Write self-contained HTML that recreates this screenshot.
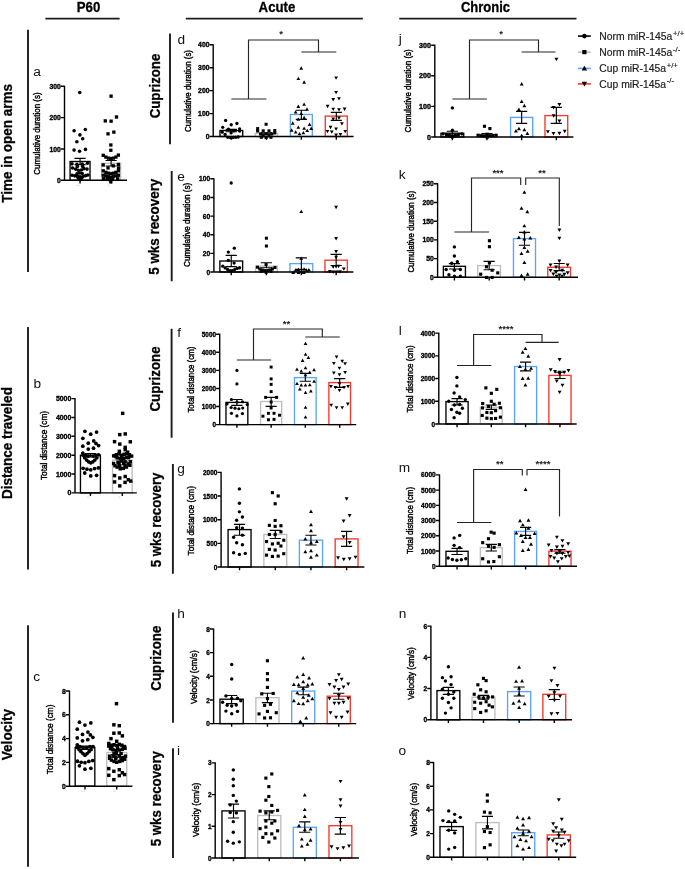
<!DOCTYPE html>
<html><head><meta charset="utf-8"><title>Figure</title>
<style>html,body{margin:0;padding:0;background:#fff;}svg{display:block;}</style>
</head><body>
<svg width="685" height="869" viewBox="0 0 685 869" font-family="'Liberation Sans', Arial, sans-serif"><rect width="685" height="869" fill="#fff"/><g><rect x="70.08" y="161.5" width="19.95" height="18.8" fill="none" stroke="#000000" stroke-width="1.35"/><rect x="101.58" y="163.3" width="19.05" height="17" fill="none" stroke="#bdbdbd" stroke-width="1.35"/><g fill="#000"><circle cx="79.72" cy="92.47" r="1.8"/><circle cx="74.1" cy="130.79" r="1.8"/><circle cx="85.34" cy="129.46" r="1.8"/><circle cx="79.93" cy="134.88" r="1.8"/><circle cx="82.69" cy="138.76" r="1.8"/><circle cx="76.86" cy="141.82" r="1.8"/><circle cx="74.06" cy="150.08" r="1.8"/><circle cx="79.58" cy="151.31" r="1.8"/><circle cx="85.45" cy="149.38" r="1.8"/><circle cx="71.96" cy="163.83" r="1.8"/><circle cx="76.95" cy="164.27" r="1.8"/><circle cx="82.2" cy="164.09" r="1.8"/><circle cx="87.46" cy="163.22" r="1.8"/><circle cx="72.57" cy="167.95" r="1.8"/><circle cx="75.64" cy="169.09" r="1.8"/><circle cx="78.26" cy="170.23" r="1.8"/><circle cx="81.33" cy="169.96" r="1.8"/><circle cx="83.96" cy="168.65" r="1.8"/><circle cx="87.02" cy="169.09" r="1.8"/><circle cx="77.39" cy="166.46" r="1.8"/><circle cx="82.64" cy="166.46" r="1.8"/><circle cx="72.13" cy="175.22" r="1.8"/><circle cx="74.76" cy="175.83" r="1.8"/><circle cx="77.39" cy="176.36" r="1.8"/><circle cx="80.01" cy="176.71" r="1.8"/><circle cx="83.08" cy="176.36" r="1.8"/><circle cx="85.71" cy="175.66" r="1.8"/><circle cx="87.9" cy="174.96" r="1.8"/><circle cx="78.26" cy="178.11" r="1.8"/><circle cx="80.01" cy="179.6" r="1.8"/><circle cx="81.77" cy="178.11" r="1.8"/><circle cx="79.58" cy="173.03" r="1.8"/><circle cx="76.95" cy="173.91" r="1.8"/><circle cx="82.2" cy="173.47" r="1.8"/><rect x="109.44" y="94.49" width="3.31" height="3.31"/><rect x="114.85" y="115.34" width="3.31" height="3.31"/><rect x="103.61" y="119.22" width="3.31" height="3.31"/><rect x="109.44" y="119.53" width="3.31" height="3.31"/><rect x="112.2" y="130.46" width="3.31" height="3.31"/><rect x="106.37" y="132.2" width="3.31" height="3.31"/><rect x="109.19" y="143.34" width="3.31" height="3.31"/><rect x="109.19" y="148.6" width="3.31" height="3.31"/><rect x="101.57" y="153.68" width="3.31" height="3.31"/><rect x="104.2" y="155.43" width="3.31" height="3.31"/><rect x="106.83" y="156.48" width="3.31" height="3.31"/><rect x="109.19" y="156.92" width="3.31" height="3.31"/><rect x="111.64" y="156.48" width="3.31" height="3.31"/><rect x="114.27" y="155.43" width="3.31" height="3.31"/><rect x="116.72" y="153.42" width="3.31" height="3.31"/><rect x="101.57" y="163.31" width="3.31" height="3.31"/><rect x="106.39" y="166.29" width="3.31" height="3.31"/><rect x="111.64" y="164.19" width="3.31" height="3.31"/><rect x="116.72" y="162.79" width="3.31" height="3.31"/><rect x="116.9" y="166.29" width="3.31" height="3.31"/><rect x="101.57" y="169.18" width="3.31" height="3.31"/><rect x="104.2" y="170.67" width="3.31" height="3.31"/><rect x="106.83" y="171.55" width="3.31" height="3.31"/><rect x="109.19" y="172.07" width="3.31" height="3.31"/><rect x="111.64" y="171.55" width="3.31" height="3.31"/><rect x="114.27" y="170.67" width="3.31" height="3.31"/><rect x="116.72" y="169.18" width="3.31" height="3.31"/><rect x="101.57" y="173.56" width="3.31" height="3.31"/><rect x="104.2" y="174.18" width="3.31" height="3.31"/><rect x="106.83" y="175.05" width="3.31" height="3.31"/><rect x="109.19" y="175.75" width="3.31" height="3.31"/><rect x="111.64" y="175.05" width="3.31" height="3.31"/><rect x="114.27" y="174.18" width="3.31" height="3.31"/><rect x="116.72" y="173.56" width="3.31" height="3.31"/><rect x="105.51" y="176.63" width="3.31" height="3.31"/><rect x="108.14" y="177.94" width="3.31" height="3.31"/><rect x="110.77" y="177.07" width="3.31" height="3.31"/><rect x="109.19" y="180.13" width="3.31" height="3.31"/><rect x="102.01" y="177.07" width="3.31" height="3.31"/><rect x="116.02" y="177.07" width="3.31" height="3.31"/></g><path d="M80.05 158.4V164.6M74.45 158.4H85.65M74.45 164.6H85.65M111.1 160.5V166M105.5 160.5H116.7M105.5 166H116.7" stroke="#000" stroke-width="1.15" fill="none"/><path d="M64.5 85.7V180.3H127M60.9 180.3H64.5M60.9 148.97H64.5M60.9 117.63H64.5M60.9 86.3H64.5M80.05 180.3V183.5M111.1 180.3V183.5" stroke="#000" stroke-width="1.4" fill="none"/><text x="60.8" y="182.86" font-size="7.2" font-weight="bold" text-anchor="end" stroke="#000" stroke-width="0.35" textLength="3.8" lengthAdjust="spacingAndGlyphs">0</text><text x="60.8" y="151.52" font-size="7.2" font-weight="bold" text-anchor="end" stroke="#000" stroke-width="0.35" textLength="11.4" lengthAdjust="spacingAndGlyphs">100</text><text x="60.8" y="120.19" font-size="7.2" font-weight="bold" text-anchor="end" stroke="#000" stroke-width="0.35" textLength="11.4" lengthAdjust="spacingAndGlyphs">200</text><text x="60.8" y="88.86" font-size="7.2" font-weight="bold" text-anchor="end" stroke="#000" stroke-width="0.35" textLength="11.4" lengthAdjust="spacingAndGlyphs">300</text><text transform="translate(40.46 133.6) rotate(-90)" font-size="8.6" text-anchor="middle" stroke="#000" stroke-width="0.4" textLength="82.4" lengthAdjust="spacingAndGlyphs">Cumulative duration (s)</text><text x="33.3" y="76.4" font-size="13.7" fill="#111">a</text></g><g><rect x="80.47" y="455.2" width="19.95" height="37.7" fill="none" stroke="#000000" stroke-width="1.35"/><rect x="112.58" y="460.2" width="19.55" height="32.7" fill="none" stroke="#bdbdbd" stroke-width="1.35"/><g fill="#000"><circle cx="84.93" cy="431.31" r="1.88"/><circle cx="90.72" cy="434.2" r="1.88"/><circle cx="96.58" cy="432.01" r="1.88"/><circle cx="82.83" cy="438.31" r="1.88"/><circle cx="88.26" cy="443.22" r="1.88"/><circle cx="93.69" cy="440.94" r="1.88"/><circle cx="95.97" cy="443.39" r="1.88"/><circle cx="98.6" cy="445.58" r="1.88"/><circle cx="82.83" cy="446.2" r="1.88"/><circle cx="88.26" cy="449.09" r="1.88"/><circle cx="93.52" cy="448.21" r="1.88"/><circle cx="82.83" cy="453.03" r="1.88"/><circle cx="83.01" cy="455.22" r="1.88"/><circle cx="84.76" cy="457.85" r="1.88"/><circle cx="86.69" cy="460.04" r="1.88"/><circle cx="88.7" cy="461.79" r="1.88"/><circle cx="90.72" cy="462.84" r="1.88"/><circle cx="92.82" cy="461.79" r="1.88"/><circle cx="94.83" cy="460.04" r="1.88"/><circle cx="96.85" cy="457.85" r="1.88"/><circle cx="98.6" cy="454.78" r="1.88"/><circle cx="85.64" cy="455.22" r="1.88"/><circle cx="88.26" cy="456.09" r="1.88"/><circle cx="93.08" cy="456.09" r="1.88"/><circle cx="95.71" cy="455.22" r="1.88"/><circle cx="83.18" cy="468.36" r="1.88"/><circle cx="86.95" cy="469.23" r="1.88"/><circle cx="90.72" cy="469.85" r="1.88"/><circle cx="94.57" cy="468.62" r="1.88"/><circle cx="98.34" cy="467.92" r="1.88"/><circle cx="84.76" cy="473" r="1.88"/><circle cx="90.72" cy="475.98" r="1.88"/><circle cx="96.58" cy="475.36" r="1.88"/><rect x="118.07" y="432.91" width="3.45" height="3.45"/><rect x="123.5" y="432.21" width="3.45" height="3.45"/><rect x="112.82" y="439.92" width="3.45" height="3.45"/><rect x="118.07" y="442.37" width="3.45" height="3.45"/><rect x="128.58" y="440.09" width="3.45" height="3.45"/><rect x="123.5" y="445.61" width="3.45" height="3.45"/><rect x="123.5" y="447.98" width="3.45" height="3.45"/><rect x="117.63" y="449.55" width="3.45" height="3.45"/><rect x="125.95" y="450.43" width="3.45" height="3.45"/><rect x="111.94" y="454.11" width="3.45" height="3.45"/><rect x="114.57" y="453.06" width="3.45" height="3.45"/><rect x="117.19" y="452.18" width="3.45" height="3.45"/><rect x="119.82" y="453.49" width="3.45" height="3.45"/><rect x="122.45" y="452.62" width="3.45" height="3.45"/><rect x="125.08" y="452" width="3.45" height="3.45"/><rect x="127.71" y="453.06" width="3.45" height="3.45"/><rect x="129.9" y="454.37" width="3.45" height="3.45"/><rect x="115.44" y="456.12" width="3.45" height="3.45"/><rect x="118.51" y="457" width="3.45" height="3.45"/><rect x="122.01" y="456.56" width="3.45" height="3.45"/><rect x="125.08" y="455.68" width="3.45" height="3.45"/><rect x="119.82" y="459.19" width="3.45" height="3.45"/><rect x="117.19" y="461.82" width="3.45" height="3.45"/><rect x="122.01" y="461.82" width="3.45" height="3.45"/><rect x="113.25" y="464" width="3.45" height="3.45"/><rect x="115.44" y="465.32" width="3.45" height="3.45"/><rect x="118.51" y="467.07" width="3.45" height="3.45"/><rect x="121.57" y="466.63" width="3.45" height="3.45"/><rect x="124.64" y="465.32" width="3.45" height="3.45"/><rect x="128.14" y="463.57" width="3.45" height="3.45"/><rect x="126.83" y="462.25" width="3.45" height="3.45"/><rect x="112.82" y="473.9" width="3.45" height="3.45"/><rect x="118.07" y="476.27" width="3.45" height="3.45"/><rect x="123.5" y="474.78" width="3.45" height="3.45"/><rect x="112.82" y="480.21" width="3.45" height="3.45"/><rect x="123.33" y="480.65" width="3.45" height="3.45"/><rect x="126.65" y="478.02" width="3.45" height="3.45"/><rect x="129.02" y="479.33" width="3.45" height="3.45"/><rect x="118.07" y="484.15" width="3.45" height="3.45"/><rect x="120.93" y="411.63" width="3.45" height="3.45"/><rect x="114.13" y="454.81" width="3.45" height="3.45"/><rect x="119.82" y="455.25" width="3.45" height="3.45"/><rect x="126.83" y="455.86" width="3.45" height="3.45"/><rect x="116.32" y="460.5" width="3.45" height="3.45"/><rect x="123.33" y="460.06" width="3.45" height="3.45"/><rect x="118.07" y="463.74" width="3.45" height="3.45"/><rect x="123.33" y="463.74" width="3.45" height="3.45"/><rect x="111.94" y="461.82" width="3.45" height="3.45"/><rect x="128.58" y="460.06" width="3.45" height="3.45"/></g><path d="M90.45 453.5V457M84.85 453.5H96.05M84.85 457H96.05M122.35 458V462M116.75 458H127.95M116.75 462H127.95" stroke="#000" stroke-width="1.15" fill="none"/><path d="M75 398V492.9H136.8M71.4 492.9H75M71.4 474.04H75M71.4 455.18H75M71.4 436.32H75M71.4 417.46H75M71.4 398.6H75M90.45 492.9V496.1M122.35 492.9V496.1" stroke="#000" stroke-width="1.4" fill="none"/><text x="71.3" y="495.46" font-size="7.2" font-weight="bold" text-anchor="end" stroke="#000" stroke-width="0.35" textLength="3.85" lengthAdjust="spacingAndGlyphs">0</text><text x="71.3" y="476.6" font-size="7.2" font-weight="bold" text-anchor="end" stroke="#000" stroke-width="0.35" textLength="15.4" lengthAdjust="spacingAndGlyphs">1000</text><text x="71.3" y="457.74" font-size="7.2" font-weight="bold" text-anchor="end" stroke="#000" stroke-width="0.35" textLength="15.4" lengthAdjust="spacingAndGlyphs">2000</text><text x="71.3" y="438.88" font-size="7.2" font-weight="bold" text-anchor="end" stroke="#000" stroke-width="0.35" textLength="15.4" lengthAdjust="spacingAndGlyphs">3000</text><text x="71.3" y="420.02" font-size="7.2" font-weight="bold" text-anchor="end" stroke="#000" stroke-width="0.35" textLength="15.4" lengthAdjust="spacingAndGlyphs">4000</text><text x="71.3" y="401.16" font-size="7.2" font-weight="bold" text-anchor="end" stroke="#000" stroke-width="0.35" textLength="15.4" lengthAdjust="spacingAndGlyphs">5000</text><text transform="translate(46.86 445.5) rotate(-90)" font-size="8.6" text-anchor="middle" stroke="#000" stroke-width="0.4" textLength="69" lengthAdjust="spacingAndGlyphs">Total distance (cm)</text><text x="33.4" y="388.3" font-size="13.7" fill="#111">b</text></g><g><rect x="75.17" y="747.6" width="19.65" height="38.6" fill="none" stroke="#000000" stroke-width="1.35"/><rect x="106.77" y="752.5" width="19.95" height="33.7" fill="none" stroke="#bdbdbd" stroke-width="1.35"/><g fill="#000"><circle cx="79.45" cy="722.18" r="1.88"/><circle cx="84.96" cy="725.07" r="1.88"/><circle cx="90.83" cy="722.88" r="1.88"/><circle cx="77.26" cy="729.19" r="1.88"/><circle cx="82.51" cy="734.45" r="1.88"/><circle cx="87.94" cy="732.08" r="1.88"/><circle cx="90.39" cy="734.97" r="1.88"/><circle cx="92.85" cy="737.34" r="1.88"/><circle cx="77.26" cy="737.95" r="1.88"/><circle cx="82.51" cy="740.84" r="1.88"/><circle cx="87.77" cy="739.7" r="1.88"/><circle cx="77.26" cy="744.78" r="1.88"/><circle cx="76.82" cy="747.41" r="1.88"/><circle cx="79.01" cy="749.6" r="1.88"/><circle cx="80.93" cy="751.61" r="1.88"/><circle cx="82.95" cy="753.54" r="1.88"/><circle cx="84.96" cy="755.29" r="1.88"/><circle cx="87.07" cy="753.54" r="1.88"/><circle cx="89.08" cy="751.61" r="1.88"/><circle cx="91.09" cy="749.6" r="1.88"/><circle cx="93.02" cy="746.53" r="1.88"/><circle cx="79.88" cy="746.53" r="1.88"/><circle cx="82.95" cy="747.58" r="1.88"/><circle cx="86.89" cy="747.58" r="1.88"/><circle cx="89.96" cy="746.53" r="1.88"/><circle cx="77.43" cy="761.25" r="1.88"/><circle cx="81.2" cy="762.3" r="1.88"/><circle cx="84.96" cy="762.74" r="1.88"/><circle cx="88.82" cy="761.42" r="1.88"/><circle cx="92.58" cy="760.55" r="1.88"/><circle cx="79.45" cy="765.8" r="1.88"/><circle cx="84.96" cy="769.13" r="1.88"/><circle cx="90.83" cy="768.26" r="1.88"/><rect x="112.14" y="723.09" width="3.45" height="3.45"/><rect x="117.57" y="723.96" width="3.45" height="3.45"/><rect x="112.14" y="731.49" width="3.45" height="3.45"/><rect x="117.57" y="731.23" width="3.45" height="3.45"/><rect x="120.64" y="734.12" width="3.45" height="3.45"/><rect x="109.25" y="736.92" width="3.45" height="3.45"/><rect x="114.95" y="739.55" width="3.45" height="3.45"/><rect x="107.06" y="741.74" width="3.45" height="3.45"/><rect x="107.06" y="744.37" width="3.45" height="3.45"/><rect x="109.69" y="743.49" width="3.45" height="3.45"/><rect x="112.32" y="743.06" width="3.45" height="3.45"/><rect x="114.95" y="743.76" width="3.45" height="3.45"/><rect x="117.57" y="742.62" width="3.45" height="3.45"/><rect x="120.2" y="743.49" width="3.45" height="3.45"/><rect x="122.83" y="744.81" width="3.45" height="3.45"/><rect x="108.82" y="747" width="3.45" height="3.45"/><rect x="111.44" y="748.14" width="3.45" height="3.45"/><rect x="114.51" y="748.75" width="3.45" height="3.45"/><rect x="117.57" y="748.31" width="3.45" height="3.45"/><rect x="120.64" y="747.44" width="3.45" height="3.45"/><rect x="123.27" y="746.56" width="3.45" height="3.45"/><rect x="111.44" y="754.44" width="3.45" height="3.45"/><rect x="114.07" y="755.32" width="3.45" height="3.45"/><rect x="117.57" y="754.44" width="3.45" height="3.45"/><rect x="121.08" y="756.02" width="3.45" height="3.45"/><rect x="107.94" y="756.63" width="3.45" height="3.45"/><rect x="109.69" y="758.38" width="3.45" height="3.45"/><rect x="112.32" y="759.7" width="3.45" height="3.45"/><rect x="114.95" y="760.57" width="3.45" height="3.45"/><rect x="118.01" y="759.7" width="3.45" height="3.45"/><rect x="120.64" y="758.82" width="3.45" height="3.45"/><rect x="122.83" y="757.51" width="3.45" height="3.45"/><rect x="114.51" y="751.82" width="3.45" height="3.45"/><rect x="107.06" y="766.88" width="3.45" height="3.45"/><rect x="112.14" y="769.51" width="3.45" height="3.45"/><rect x="117.57" y="768.02" width="3.45" height="3.45"/><rect x="107.06" y="773.54" width="3.45" height="3.45"/><rect x="117.57" y="773.89" width="3.45" height="3.45"/><rect x="120.64" y="771.09" width="3.45" height="3.45"/><rect x="122.83" y="772.84" width="3.45" height="3.45"/><rect x="112.14" y="777.92" width="3.45" height="3.45"/><rect x="114.77" y="701.92" width="3.45" height="3.45"/><rect x="110.13" y="744.81" width="3.45" height="3.45"/><rect x="115.82" y="745.86" width="3.45" height="3.45"/><rect x="121.95" y="745.86" width="3.45" height="3.45"/><rect x="112.32" y="751.82" width="3.45" height="3.45"/><rect x="119.33" y="751.82" width="3.45" height="3.45"/><rect x="114.07" y="757.07" width="3.45" height="3.45"/><rect x="119.33" y="757.51" width="3.45" height="3.45"/><rect x="107.94" y="754.44" width="3.45" height="3.45"/><rect x="123.71" y="754.44" width="3.45" height="3.45"/></g><path d="M85 746V749.5M79.4 746H90.6M79.4 749.5H90.6M116.75 750.5V754.5M111.15 750.5H122.35M111.15 754.5H122.35" stroke="#000" stroke-width="1.15" fill="none"/><path d="M69.5 690.4V786.2H132.4M65.9 786.2H69.5M65.9 762.4H69.5M65.9 738.6H69.5M65.9 714.8H69.5M65.9 691H69.5M85 786.2V789.4M116.75 786.2V789.4" stroke="#000" stroke-width="1.4" fill="none"/><text x="65.8" y="788.76" font-size="7.2" font-weight="bold" text-anchor="end" stroke="#000" stroke-width="0.35" textLength="3.8" lengthAdjust="spacingAndGlyphs">0</text><text x="65.8" y="764.96" font-size="7.2" font-weight="bold" text-anchor="end" stroke="#000" stroke-width="0.35" textLength="3.8" lengthAdjust="spacingAndGlyphs">2</text><text x="65.8" y="741.16" font-size="7.2" font-weight="bold" text-anchor="end" stroke="#000" stroke-width="0.35" textLength="3.8" lengthAdjust="spacingAndGlyphs">4</text><text x="65.8" y="717.36" font-size="7.2" font-weight="bold" text-anchor="end" stroke="#000" stroke-width="0.35" textLength="3.8" lengthAdjust="spacingAndGlyphs">6</text><text x="65.8" y="693.56" font-size="7.2" font-weight="bold" text-anchor="end" stroke="#000" stroke-width="0.35" textLength="3.8" lengthAdjust="spacingAndGlyphs">8</text><text transform="translate(53.16 739.35) rotate(-90)" font-size="8.6" text-anchor="middle" stroke="#000" stroke-width="0.4" textLength="69.7" lengthAdjust="spacingAndGlyphs">Total distance (cm)</text><text x="33.2" y="681.1" font-size="13.7" fill="#111">c</text></g><g><rect x="219.98" y="130.5" width="22.75" height="6" fill="none" stroke="#000000" stroke-width="1.35"/><rect x="255.28" y="133.4" width="22.35" height="3.1" fill="none" stroke="#bdbdbd" stroke-width="1.35"/><rect x="290.38" y="114.5" width="21.95" height="22" fill="none" stroke="#5aa5f5" stroke-width="1.35"/><rect x="325.28" y="116.1" width="22.05" height="20.4" fill="none" stroke="#f2392b" stroke-width="1.35"/><g fill="#000"><circle cx="225.64" cy="120.42" r="1.65"/><circle cx="231.22" cy="124.75" r="1.65"/><circle cx="236.91" cy="123.5" r="1.65"/><circle cx="222.74" cy="127.35" r="1.65"/><circle cx="228.53" cy="129.09" r="1.65"/><circle cx="239.61" cy="128.89" r="1.65"/><circle cx="233.82" cy="130.82" r="1.65"/><circle cx="222.26" cy="132.17" r="1.65"/><circle cx="239.61" cy="131.01" r="1.65"/><circle cx="225.15" cy="134.39" r="1.65"/><circle cx="227.75" cy="137.28" r="1.65"/><circle cx="230.45" cy="137.57" r="1.65"/><circle cx="233.15" cy="137.57" r="1.65"/><circle cx="235.75" cy="137.28" r="1.65"/><circle cx="238.16" cy="136.99" r="1.65"/><circle cx="231.13" cy="132.94" r="1.65"/><rect x="264.58" y="122.75" width="3.04" height="3.04"/><rect x="256.11" y="127.09" width="3.04" height="3.04"/><rect x="256.11" y="129.5" width="3.04" height="3.04"/><rect x="261.69" y="129.3" width="3.04" height="3.04"/><rect x="267.47" y="129.3" width="3.04" height="3.04"/><rect x="273.26" y="129.01" width="3.04" height="3.04"/><rect x="273.26" y="131.42" width="3.04" height="3.04"/><rect x="259" y="132.39" width="3.04" height="3.04"/><rect x="264.58" y="132.39" width="3.04" height="3.04"/><rect x="270.37" y="132.39" width="3.04" height="3.04"/><rect x="261.69" y="134.31" width="3.04" height="3.04"/><rect x="267.47" y="134.31" width="3.04" height="3.04"/><rect x="259.77" y="135.76" width="3.04" height="3.04"/><rect x="264.58" y="136.05" width="3.04" height="3.04"/><rect x="269.4" y="135.76" width="3.04" height="3.04"/><path d="M301.22 66.36L303.13 69.72L299.32 69.72Z"/><path d="M298.33 76.67L300.24 80.03L296.43 80.03Z"/><path d="M304.11 80.33L306.02 83.69L302.21 83.69Z"/><path d="M298.33 104.61L300.24 107.97L296.43 107.97Z"/><path d="M304.11 102.49L306.02 105.85L302.21 105.85Z"/><path d="M307 107.31L308.91 110.67L305.1 110.67Z"/><path d="M295.64 110.2L297.54 113.56L293.73 113.56Z"/><path d="M301.22 111.64L303.13 115L299.32 115Z"/><path d="M298.33 117.42L300.24 120.78L296.43 120.78Z"/><path d="M304.11 115.78L306.02 119.15L302.21 119.15Z"/><path d="M292.74 121.28L294.65 124.64L290.84 124.64Z"/><path d="M309.61 122.53L311.51 125.89L307.7 125.89Z"/><path d="M298.33 125.42L300.24 128.78L296.43 128.78Z"/><path d="M304.11 126.38L306.02 129.74L302.21 129.74Z"/><path d="M311.24 126.58L313.15 129.94L309.34 129.94Z"/><path d="M291.59 128.31L293.49 131.67L289.68 131.67Z"/><path d="M295.64 130.24L297.54 133.6L293.73 133.6Z"/><path d="M299.49 131.88L301.39 135.24L297.58 135.24Z"/><path d="M303.34 130.91L305.25 134.27L301.44 134.27Z"/><path d="M307.2 128.7L309.1 132.06L305.29 132.06Z"/><path d="M336.1 79.8L338.01 76.44L334.2 76.44Z"/><path d="M336.1 94.26L338.01 90.9L334.2 90.9Z"/><path d="M333.21 101.48L335.12 98.12L331.31 98.12Z"/><path d="M338.99 100.52L340.9 97.16L337.09 97.16Z"/><path d="M327.62 108.23L329.53 104.87L325.72 104.87Z"/><path d="M333.21 111.12L335.12 107.76L331.31 107.76Z"/><path d="M338.99 111.6L340.9 108.24L337.09 108.24Z"/><path d="M344.58 110.92L346.49 107.56L342.68 107.56Z"/><path d="M333.21 120.95L335.12 117.58L331.31 117.58Z"/><path d="M338.99 119.79L340.9 116.43L337.09 116.43Z"/><path d="M341.88 125.57L343.79 122.21L339.98 122.21Z"/><path d="M330.51 129.23L332.42 125.87L328.61 125.87Z"/><path d="M336.1 130.87L338.01 127.51L334.2 127.51Z"/><path d="M327.43 133.28L329.34 129.92L325.52 129.92Z"/><path d="M331.77 133.76L333.67 130.4L329.86 130.4Z"/><path d="M345.26 133.28L347.16 129.92L343.35 129.92Z"/><path d="M336.1 136.94L338.01 133.58L334.2 133.58Z"/><path d="M340.44 136.36L342.34 133L338.53 133Z"/></g><path d="M231.35 129.3V131.7M225.75 129.3H236.95M225.75 131.7H236.95M266.45 132.7V134.1M260.85 132.7H272.05M260.85 134.1H272.05M301.35 110.2V119.3M295.75 110.2H306.95M295.75 119.3H306.95M336.3 112.3V120.3M330.7 112.3H341.9M330.7 120.3H341.9" stroke="#000" stroke-width="1.15" fill="none"/><path d="M213.2 44.2V136.5H353.6M209.6 136.5H213.2M209.6 113.58H213.2M209.6 90.65H213.2M209.6 67.72H213.2M209.6 44.8H213.2M231.35 136.5V139.7M266.45 136.5V139.7M301.35 136.5V139.7M336.3 136.5V139.7" stroke="#000" stroke-width="1.4" fill="none"/><text x="209.5" y="139.06" font-size="7.2" font-weight="bold" text-anchor="end" stroke="#000" stroke-width="0.35" textLength="3.8" lengthAdjust="spacingAndGlyphs">0</text><text x="209.5" y="116.13" font-size="7.2" font-weight="bold" text-anchor="end" stroke="#000" stroke-width="0.35" textLength="11.4" lengthAdjust="spacingAndGlyphs">100</text><text x="209.5" y="93.21" font-size="7.2" font-weight="bold" text-anchor="end" stroke="#000" stroke-width="0.35" textLength="11.4" lengthAdjust="spacingAndGlyphs">200</text><text x="209.5" y="70.28" font-size="7.2" font-weight="bold" text-anchor="end" stroke="#000" stroke-width="0.35" textLength="11.4" lengthAdjust="spacingAndGlyphs">300</text><text x="209.5" y="47.36" font-size="7.2" font-weight="bold" text-anchor="end" stroke="#000" stroke-width="0.35" textLength="11.4" lengthAdjust="spacingAndGlyphs">400</text><text transform="translate(190.56 91) rotate(-90)" font-size="8.6" text-anchor="middle" stroke="#000" stroke-width="0.4" textLength="82" lengthAdjust="spacingAndGlyphs">Cumulative duration (s)</text><text x="177.5" y="44.3" font-size="13.7" fill="#111">d</text></g><g><rect x="219.88" y="261" width="22.75" height="11" fill="none" stroke="#000000" stroke-width="1.35"/><rect x="255.58" y="266.2" width="21.65" height="5.8" fill="none" stroke="#bdbdbd" stroke-width="1.35"/><rect x="289.98" y="263.6" width="22.75" height="8.4" fill="none" stroke="#5aa5f5" stroke-width="1.35"/><rect x="324.98" y="260.2" width="22.35" height="11.8" fill="none" stroke="#f2392b" stroke-width="1.35"/><g fill="#000"><circle cx="231.2" cy="183" r="1.65"/><circle cx="234.31" cy="248.19" r="1.65"/><circle cx="228.33" cy="252.04" r="1.65"/><circle cx="228.33" cy="260.43" r="1.65"/><circle cx="234.11" cy="263.12" r="1.65"/><circle cx="222.74" cy="266.21" r="1.65"/><circle cx="225.15" cy="267.94" r="1.65"/><circle cx="227.56" cy="269.39" r="1.65"/><circle cx="229.97" cy="270.64" r="1.65"/><circle cx="232.38" cy="270.64" r="1.65"/><circle cx="234.79" cy="269.39" r="1.65"/><circle cx="237.2" cy="268.42" r="1.65"/><circle cx="239.61" cy="267.75" r="1.65"/><circle cx="231.13" cy="271.31" r="1.65"/><rect x="264.88" y="236.68" width="3.04" height="3.04"/><rect x="264.88" y="244.48" width="3.04" height="3.04"/><rect x="264.58" y="263.05" width="3.04" height="3.04"/><rect x="255.91" y="265.65" width="3.04" height="3.04"/><rect x="258.32" y="267.39" width="3.04" height="3.04"/><rect x="260.73" y="268.54" width="3.04" height="3.04"/><rect x="263.14" y="269.12" width="3.04" height="3.04"/><rect x="266.03" y="269.12" width="3.04" height="3.04"/><rect x="268.44" y="268.54" width="3.04" height="3.04"/><rect x="270.85" y="267.39" width="3.04" height="3.04"/><rect x="273.45" y="265.94" width="3.04" height="3.04"/><rect x="264.58" y="270.76" width="3.04" height="3.04"/><rect x="259.77" y="269.8" width="3.04" height="3.04"/><rect x="269.4" y="269.8" width="3.04" height="3.04"/><path d="M301.22 209.66L303.13 213.02L299.32 213.02Z"/><path d="M301.22 256.39L303.13 259.75L299.32 259.75Z"/><path d="M295.64 268.24L297.54 271.6L293.73 271.6Z"/><path d="M298.33 267.66L300.24 271.02L296.43 271.02Z"/><path d="M301.22 269.2L303.13 272.56L299.32 272.56Z"/><path d="M304.11 267.27L306.02 270.63L302.21 270.63Z"/><path d="M306.72 268.62L308.62 271.98L304.81 271.98Z"/><path d="M308.93 267.95L310.84 271.31L307.03 271.31Z"/><path d="M293.23 270.55L295.13 273.91L291.32 273.91Z"/><path d="M298.53 270.55L300.43 273.91L296.62 273.91Z"/><path d="M303.82 270.55L305.73 273.91L301.92 273.91Z"/><path d="M336.1 209.13L338.01 205.77L334.2 205.77Z"/><path d="M336.1 240.45L338.01 237.08L334.2 237.08Z"/><path d="M336.1 253.45L338.01 250.09L334.2 250.09Z"/><path d="M336.1 259.23L338.01 255.87L334.2 255.87Z"/><path d="M333.21 268.87L335.12 265.51L331.31 265.51Z"/><path d="M338.51 268.19L340.42 264.83L336.61 264.83Z"/><path d="M343.81 270.8L345.72 267.44L341.9 267.44Z"/><path d="M329.84 273.4L331.75 270.04L327.93 270.04Z"/><path d="M333.21 273.98L335.12 270.61L331.31 270.61Z"/><path d="M336.58 273.98L338.49 270.61L334.68 270.61Z"/><path d="M339.96 273.69L341.86 270.33L338.05 270.33Z"/><path d="M336.1 268.39L338.01 265.03L334.2 265.03Z"/></g><path d="M231.25 255.4V266.6M225.65 255.4H236.85M225.65 266.6H236.85M266.4 262.7V267.7M260.8 262.7H272M260.8 267.7H272M301.35 257.8V269.4M295.75 257.8H306.95M295.75 269.4H306.95M336.15 254.4V265.5M330.55 254.4H341.75M330.55 265.5H341.75" stroke="#000" stroke-width="1.15" fill="none"/><path d="M213.9 178.2V272H353.4M210.3 272H213.9M210.3 253.36H213.9M210.3 234.72H213.9M210.3 216.08H213.9M210.3 197.44H213.9M210.3 178.8H213.9M231.25 272V275.2M266.4 272V275.2M301.35 272V275.2M336.15 272V275.2" stroke="#000" stroke-width="1.4" fill="none"/><text x="210.2" y="274.56" font-size="7.2" font-weight="bold" text-anchor="end" stroke="#000" stroke-width="0.35" textLength="3.7" lengthAdjust="spacingAndGlyphs">0</text><text x="210.2" y="255.92" font-size="7.2" font-weight="bold" text-anchor="end" stroke="#000" stroke-width="0.35" textLength="7.4" lengthAdjust="spacingAndGlyphs">20</text><text x="210.2" y="237.28" font-size="7.2" font-weight="bold" text-anchor="end" stroke="#000" stroke-width="0.35" textLength="7.4" lengthAdjust="spacingAndGlyphs">40</text><text x="210.2" y="218.64" font-size="7.2" font-weight="bold" text-anchor="end" stroke="#000" stroke-width="0.35" textLength="7.4" lengthAdjust="spacingAndGlyphs">60</text><text x="210.2" y="200" font-size="7.2" font-weight="bold" text-anchor="end" stroke="#000" stroke-width="0.35" textLength="7.4" lengthAdjust="spacingAndGlyphs">80</text><text x="210.2" y="181.36" font-size="7.2" font-weight="bold" text-anchor="end" stroke="#000" stroke-width="0.35" textLength="11.1" lengthAdjust="spacingAndGlyphs">100</text><text transform="translate(190.06 224.85) rotate(-90)" font-size="8.6" text-anchor="middle" stroke="#000" stroke-width="0.4" textLength="84.1" lengthAdjust="spacingAndGlyphs">Cumulative duration (s)</text><text x="177.15" y="181.3" font-size="13.7" fill="#111">e</text></g><g><rect x="225.98" y="402.4" width="21.85" height="22.2" fill="none" stroke="#000000" stroke-width="1.35"/><rect x="260.57" y="401.5" width="21.15" height="23.1" fill="none" stroke="#bdbdbd" stroke-width="1.35"/><rect x="294.48" y="377.6" width="21.65" height="47" fill="none" stroke="#5aa5f5" stroke-width="1.35"/><rect x="328.88" y="382.6" width="21.65" height="42" fill="none" stroke="#f2392b" stroke-width="1.35"/><g fill="#000"><circle cx="236.93" cy="370.42" r="1.6"/><circle cx="236.93" cy="383.91" r="1.6"/><circle cx="231.44" cy="399.51" r="1.6"/><circle cx="236.93" cy="402.02" r="1.6"/><circle cx="242.43" cy="401.73" r="1.6"/><circle cx="227.01" cy="403.95" r="1.6"/><circle cx="247.24" cy="404.62" r="1.6"/><circle cx="231.15" cy="407.51" r="1.6"/><circle cx="235.01" cy="408.19" r="1.6"/><circle cx="238.86" cy="408.76" r="1.6"/><circle cx="242.72" cy="407.99" r="1.6"/><circle cx="231.44" cy="413.29" r="1.6"/><circle cx="242.43" cy="413.58" r="1.6"/><circle cx="236.93" cy="415.89" r="1.6"/><rect x="269.67" y="365.57" width="2.94" height="2.94"/><rect x="269.67" y="377.42" width="2.94" height="2.94"/><rect x="269.67" y="382.91" width="2.94" height="2.94"/><rect x="269.67" y="390.14" width="2.94" height="2.94"/><rect x="264.17" y="395.92" width="2.94" height="2.94"/><rect x="275.16" y="395.92" width="2.94" height="2.94"/><rect x="269.67" y="400.55" width="2.94" height="2.94"/><rect x="269.67" y="406.52" width="2.94" height="2.94"/><rect x="266.97" y="411.82" width="2.94" height="2.94"/><rect x="272.56" y="411.82" width="2.94" height="2.94"/><rect x="261.48" y="414.71" width="2.94" height="2.94"/><rect x="278.05" y="413.75" width="2.94" height="2.94"/><rect x="266.97" y="418.28" width="2.94" height="2.94"/><rect x="272.56" y="417.89" width="2.94" height="2.94"/><path d="M305.52 341.71L307.37 344.97L303.67 344.97Z"/><path d="M305.52 352.42L307.37 355.67L303.67 355.67Z"/><path d="M308.41 355.84L310.26 359.1L306.56 359.1Z"/><path d="M302.63 358.62L304.48 361.88L300.78 361.88Z"/><path d="M305.52 366.11L307.37 369.37L303.67 369.37Z"/><path d="M296.96 367.61L298.8 370.87L295.11 370.87Z"/><path d="M301.24 369.32L303.09 372.58L299.39 372.58Z"/><path d="M314.08 367.93L315.93 371.19L312.23 371.19Z"/><path d="M309.8 370.39L311.65 373.65L307.95 373.65Z"/><path d="M305.52 372.96L307.37 376.22L303.67 376.22Z"/><path d="M314.08 379.38L315.93 382.64L312.23 382.64Z"/><path d="M296.96 381.85L298.8 385.11L295.11 385.11Z"/><path d="M301.24 383.24L303.09 386.5L299.39 386.5Z"/><path d="M305.52 383.24L307.37 386.5L303.67 386.5Z"/><path d="M309.8 382.92L311.65 386.18L307.95 386.18Z"/><path d="M299.85 387.2L301.69 390.46L298 390.46Z"/><path d="M305.52 390.73L307.37 393.99L303.67 393.99Z"/><path d="M310.87 389.34L312.72 392.6L309.02 392.6Z"/><path d="M305.52 405.39L307.37 408.65L303.67 408.65Z"/><path d="M305.52 415.34L307.37 418.6L303.67 418.6Z"/><path d="M336.55 358.79L338.4 355.53L334.71 355.53Z"/><path d="M342.23 363.07L344.07 359.81L340.38 359.81Z"/><path d="M345.12 365.53L346.96 362.27L343.27 362.27Z"/><path d="M333.88 365.21L335.73 361.95L332.03 361.95Z"/><path d="M339.44 370.02L341.29 366.76L337.6 366.76Z"/><path d="M333.88 374.84L335.73 371.58L332.03 371.58Z"/><path d="M339.44 376.45L341.29 373.19L337.6 373.19Z"/><path d="M345.12 374.3L346.96 371.05L343.27 371.05Z"/><path d="M330.99 388.22L332.84 384.96L329.14 384.96Z"/><path d="M335.48 389.29L337.33 386.03L333.64 386.03Z"/><path d="M339.44 392.28L341.29 389.02L337.6 389.02Z"/><path d="M344.04 389.29L345.89 386.03L342.2 386.03Z"/><path d="M348.11 388.22L349.96 384.96L346.26 384.96Z"/><path d="M339.44 385.54L341.29 382.28L337.6 382.28Z"/><path d="M331.2 406.95L333.05 403.69L329.35 403.69Z"/><path d="M336.55 409.62L338.4 406.36L334.71 406.36Z"/><path d="M342.23 409.62L344.07 406.36L340.38 406.36Z"/><path d="M347.79 405.88L349.64 402.62L345.94 402.62Z"/></g><path d="M236.9 399.5V405.3M231.3 399.5H242.5M231.3 405.3H242.5M271.15 397.4V406.3M265.55 397.4H276.75M265.55 406.3H276.75M305.3 373.3V381.2M299.7 373.3H310.9M299.7 381.2H310.9M339.7 378.6V387.4M334.1 378.6H345.3M334.1 387.4H345.3" stroke="#000" stroke-width="1.15" fill="none"/><path d="M219.7 333.6V424.6H356.2M216.1 424.6H219.7M216.1 406.52H219.7M216.1 388.44H219.7M216.1 370.36H219.7M216.1 352.28H219.7M216.1 334.2H219.7M236.9 424.6V427.8M271.15 424.6V427.8M305.3 424.6V427.8M339.7 424.6V427.8" stroke="#000" stroke-width="1.4" fill="none"/><text x="216" y="427.16" font-size="7.2" font-weight="bold" text-anchor="end" stroke="#000" stroke-width="0.35" textLength="3.55" lengthAdjust="spacingAndGlyphs">0</text><text x="216" y="409.08" font-size="7.2" font-weight="bold" text-anchor="end" stroke="#000" stroke-width="0.35" textLength="14.2" lengthAdjust="spacingAndGlyphs">1000</text><text x="216" y="391" font-size="7.2" font-weight="bold" text-anchor="end" stroke="#000" stroke-width="0.35" textLength="14.2" lengthAdjust="spacingAndGlyphs">2000</text><text x="216" y="372.92" font-size="7.2" font-weight="bold" text-anchor="end" stroke="#000" stroke-width="0.35" textLength="14.2" lengthAdjust="spacingAndGlyphs">3000</text><text x="216" y="354.84" font-size="7.2" font-weight="bold" text-anchor="end" stroke="#000" stroke-width="0.35" textLength="14.2" lengthAdjust="spacingAndGlyphs">4000</text><text x="216" y="336.76" font-size="7.2" font-weight="bold" text-anchor="end" stroke="#000" stroke-width="0.35" textLength="14.2" lengthAdjust="spacingAndGlyphs">5000</text><text transform="translate(193.66 379.65) rotate(-90)" font-size="8.6" text-anchor="middle" stroke="#000" stroke-width="0.4" textLength="65.9" lengthAdjust="spacingAndGlyphs">Total distance (cm)</text><text x="177.3" y="337.4" font-size="13.7" fill="#111">f</text></g><g><rect x="228.08" y="529.6" width="22.95" height="37.4" fill="none" stroke="#000000" stroke-width="1.35"/><rect x="263.88" y="534.5" width="22.85" height="32.5" fill="none" stroke="#bdbdbd" stroke-width="1.35"/><rect x="299.38" y="540.2" width="23.15" height="26.8" fill="none" stroke="#5aa5f5" stroke-width="1.35"/><rect x="335.18" y="538.9" width="22.85" height="28.1" fill="none" stroke="#f2392b" stroke-width="1.35"/><g fill="#000"><circle cx="239.39" cy="488.89" r="1.7"/><circle cx="239.39" cy="503.27" r="1.7"/><circle cx="239.39" cy="511.87" r="1.7"/><circle cx="242.43" cy="516.94" r="1.7"/><circle cx="236.66" cy="520.28" r="1.7"/><circle cx="236.66" cy="527.77" r="1.7"/><circle cx="242.43" cy="528.08" r="1.7"/><circle cx="233.62" cy="537.19" r="1.7"/><circle cx="242.43" cy="535.16" r="1.7"/><circle cx="236.66" cy="542.76" r="1.7"/><circle cx="242.43" cy="544.78" r="1.7"/><circle cx="233.62" cy="552.68" r="1.7"/><circle cx="239.39" cy="554.41" r="1.7"/><circle cx="245.27" cy="553.39" r="1.7"/><rect x="270.84" y="491.07" width="3.13" height="3.13"/><rect x="276.61" y="494.41" width="3.13" height="3.13"/><rect x="273.58" y="502.21" width="3.13" height="3.13"/><rect x="273.58" y="518.92" width="3.13" height="3.13"/><rect x="267.8" y="523.78" width="3.13" height="3.13"/><rect x="273.58" y="524.79" width="3.13" height="3.13"/><rect x="279.35" y="524.18" width="3.13" height="3.13"/><rect x="279.35" y="530.26" width="3.13" height="3.13"/><rect x="267.8" y="532.89" width="3.13" height="3.13"/><rect x="273.58" y="532.89" width="3.13" height="3.13"/><rect x="264.97" y="539.98" width="3.13" height="3.13"/><rect x="270.84" y="542.41" width="3.13" height="3.13"/><rect x="276.61" y="541.7" width="3.13" height="3.13"/><rect x="282.18" y="538.66" width="3.13" height="3.13"/><rect x="279.35" y="544.44" width="3.13" height="3.13"/><rect x="267.8" y="547.78" width="3.13" height="3.13"/><rect x="273.58" y="548.49" width="3.13" height="3.13"/><rect x="264.97" y="553.55" width="3.13" height="3.13"/><rect x="270.84" y="554.87" width="3.13" height="3.13"/><rect x="276.61" y="554.56" width="3.13" height="3.13"/><rect x="282.18" y="552.13" width="3.13" height="3.13"/><path d="M310.99 509.61L312.95 513.07L309.02 513.07Z"/><path d="M310.99 522.77L312.95 526.23L309.02 526.23Z"/><path d="M310.99 528.85L312.95 532.31L309.02 532.31Z"/><path d="M305.32 536.95L307.28 540.41L303.35 540.41Z"/><path d="M310.99 540.8L312.95 544.26L309.02 544.26Z"/><path d="M316.76 539.58L318.72 543.04L314.8 543.04Z"/><path d="M305.32 549.71L307.28 553.17L303.35 553.17Z"/><path d="M310.99 548.69L312.95 552.16L309.02 552.16Z"/><path d="M310.99 555.18L312.95 558.64L309.02 558.64Z"/><path d="M316.76 553.15L318.72 556.61L314.8 556.61Z"/><path d="M346.63 500.67L348.6 497.21L344.67 497.21Z"/><path d="M349.67 517.38L351.63 513.92L347.71 513.92Z"/><path d="M343.59 522.95L345.56 519.49L341.63 519.49Z"/><path d="M343.59 538.65L345.56 535.18L341.63 535.18Z"/><path d="M349.67 544.52L351.63 541.06L347.71 541.06Z"/><path d="M338.03 559.71L339.99 556.25L336.06 556.25Z"/><path d="M343.8 561.13L345.76 557.67L341.83 557.67Z"/><path d="M349.67 560.72L351.63 557.26L347.71 557.26Z"/><path d="M355.54 559.1L357.51 555.64L353.58 555.64Z"/></g><path d="M239.55 524.3V535.2M233.95 524.3H245.15M233.95 535.2H245.15M275.3 530.4V538.5M269.7 530.4H280.9M269.7 538.5H280.9M310.95 535.2V545M305.35 535.2H316.55M305.35 545H316.55M346.6 531.4V546.3M341 531.4H352.2M341 546.3H352.2" stroke="#000" stroke-width="1.15" fill="none"/><path d="M221.1 471.8V567H364.4M217.5 567H221.1M217.5 543.35H221.1M217.5 519.7H221.1M217.5 496.05H221.1M217.5 472.4H221.1M239.55 567V570.2M275.3 567V570.2M310.95 567V570.2M346.6 567V570.2" stroke="#000" stroke-width="1.4" fill="none"/><text x="217.4" y="569.56" font-size="7.2" font-weight="bold" text-anchor="end" stroke="#000" stroke-width="0.35" textLength="3.6" lengthAdjust="spacingAndGlyphs">0</text><text x="217.4" y="545.91" font-size="7.2" font-weight="bold" text-anchor="end" stroke="#000" stroke-width="0.35" textLength="10.8" lengthAdjust="spacingAndGlyphs">500</text><text x="217.4" y="522.26" font-size="7.2" font-weight="bold" text-anchor="end" stroke="#000" stroke-width="0.35" textLength="14.4" lengthAdjust="spacingAndGlyphs">1000</text><text x="217.4" y="498.61" font-size="7.2" font-weight="bold" text-anchor="end" stroke="#000" stroke-width="0.35" textLength="14.4" lengthAdjust="spacingAndGlyphs">1500</text><text x="217.4" y="474.96" font-size="7.2" font-weight="bold" text-anchor="end" stroke="#000" stroke-width="0.35" textLength="14.4" lengthAdjust="spacingAndGlyphs">2000</text><text transform="translate(193.66 520.7) rotate(-90)" font-size="8.6" text-anchor="middle" stroke="#000" stroke-width="0.4" textLength="69.4" lengthAdjust="spacingAndGlyphs">Total distance (cm)</text><text x="177.2" y="472.9" font-size="13.7" fill="#111">g</text></g><g><rect x="219.98" y="699.2" width="23.25" height="24.4" fill="none" stroke="#000000" stroke-width="1.35"/><rect x="255.88" y="697.7" width="23.15" height="25.9" fill="none" stroke="#bdbdbd" stroke-width="1.35"/><rect x="291.68" y="691.1" width="23.05" height="32.5" fill="none" stroke="#5aa5f5" stroke-width="1.35"/><rect x="327.18" y="696.2" width="23.15" height="27.4" fill="none" stroke="#f2392b" stroke-width="1.35"/><g fill="#000"><circle cx="231.7" cy="664.51" r="1.7"/><circle cx="231.7" cy="678.99" r="1.7"/><circle cx="225.92" cy="695.9" r="1.7"/><circle cx="231.7" cy="698.53" r="1.7"/><circle cx="237.47" cy="698.23" r="1.7"/><circle cx="222.58" cy="702.28" r="1.7"/><circle cx="240.81" cy="700.76" r="1.7"/><circle cx="227.14" cy="705.32" r="1.7"/><circle cx="231.7" cy="706.03" r="1.7"/><circle cx="236.25" cy="705.01" r="1.7"/><circle cx="225.92" cy="711.09" r="1.7"/><circle cx="237.47" cy="711.39" r="1.7"/><circle cx="231.7" cy="713.72" r="1.7"/><rect x="265.88" y="659.2" width="3.13" height="3.13"/><rect x="265.88" y="672.06" width="3.13" height="3.13"/><rect x="265.88" y="678.13" width="3.13" height="3.13"/><rect x="265.88" y="685.83" width="3.13" height="3.13"/><rect x="260.21" y="692.31" width="3.13" height="3.13"/><rect x="271.65" y="691.9" width="3.13" height="3.13"/><rect x="265.88" y="696.97" width="3.13" height="3.13"/><rect x="263.04" y="703.75" width="3.13" height="3.13"/><rect x="268.92" y="702.74" width="3.13" height="3.13"/><rect x="265.88" y="709.83" width="3.13" height="3.13"/><rect x="257.47" y="712.36" width="3.13" height="3.13"/><rect x="274.69" y="711.14" width="3.13" height="3.13"/><rect x="263.04" y="716.41" width="3.13" height="3.13"/><rect x="268.92" y="716.21" width="3.13" height="3.13"/><path d="M303.19 656.06L305.15 659.52L301.23 659.52Z"/><path d="M303.19 672.47L305.15 675.93L301.23 675.93Z"/><path d="M297.32 675L299.28 678.46L295.35 678.46Z"/><path d="M309.06 676.01L311.03 679.47L307.1 679.47Z"/><path d="M303.19 679.76L305.15 683.22L301.23 683.22Z"/><path d="M293.87 682.59L295.84 686.06L291.91 686.06Z"/><path d="M298.63 682.8L300.6 686.26L296.67 686.26Z"/><path d="M307.75 683.1L309.71 686.56L305.78 686.56Z"/><path d="M312.3 682.09L314.27 685.55L310.34 685.55Z"/><path d="M303.19 686.44L305.15 689.9L301.23 689.9Z"/><path d="M297.32 690.9L299.28 694.36L295.35 694.36Z"/><path d="M308.76 693.23L310.72 696.69L306.8 696.69Z"/><path d="M303.19 695.25L305.15 698.71L301.23 698.71Z"/><path d="M293.87 698.8L295.84 702.26L291.91 702.26Z"/><path d="M298.63 701.63L300.6 705.09L296.67 705.09Z"/><path d="M303.19 701.83L305.15 705.3L301.23 705.3Z"/><path d="M307.75 698.8L309.71 702.26L305.78 702.26Z"/><path d="M312.3 696.77L314.27 700.23L310.34 700.23Z"/><path d="M306.23 716.01L308.19 719.47L304.26 719.47Z"/><path d="M300.35 719.56L302.32 723.02L298.39 723.02Z"/><path d="M338.84 676.6L340.8 673.13L336.87 673.13Z"/><path d="M336.1 682.47L338.06 679.01L334.14 679.01Z"/><path d="M341.67 681.25L343.63 677.79L339.71 677.79Z"/><path d="M329.52 686.52L331.48 683.06L327.56 683.06Z"/><path d="M348.25 686.01L350.22 682.55L346.29 682.55Z"/><path d="M334.38 689.05L336.34 685.59L332.42 685.59Z"/><path d="M343.49 689.05L345.46 685.59L341.53 685.59Z"/><path d="M338.84 691.38L340.8 687.92L336.87 687.92Z"/><path d="M338.84 697.46L340.8 693.99L336.87 693.99Z"/><path d="M329.52 700.5L331.48 697.03L327.56 697.03Z"/><path d="M348.25 700.19L350.22 696.73L346.29 696.73Z"/><path d="M334.38 705.25L336.34 701.79L332.42 701.79Z"/><path d="M338.84 705.25L340.8 701.79L336.87 701.79Z"/><path d="M343.49 704.24L345.46 700.78L341.53 700.78Z"/><path d="M330.53 714.67L332.5 711.21L328.57 711.21Z"/><path d="M347.54 714.06L349.51 710.6L345.58 710.6Z"/><path d="M336.1 719.13L338.06 715.67L334.14 715.67Z"/><path d="M341.67 719.13L343.63 715.67L339.71 715.67Z"/></g><path d="M231.6 695.5V703.6M226 695.5H237.2M226 703.6H237.2M267.45 693.2V702.6M261.85 693.2H273.05M261.85 702.6H273.05M303.2 687.1V694.7M297.6 687.1H308.8M297.6 694.7H308.8M338.75 693.2V699.2M333.15 693.2H344.35M333.15 699.2H344.35" stroke="#000" stroke-width="1.15" fill="none"/><path d="M213.6 628.4V723.6H356.2M210 723.6H213.6M210 699.95H213.6M210 676.3H213.6M210 652.65H213.6M210 629H213.6M231.6 723.6V726.8M267.45 723.6V726.8M303.2 723.6V726.8M338.75 723.6V726.8" stroke="#000" stroke-width="1.4" fill="none"/><text x="209.9" y="726.16" font-size="7.2" font-weight="bold" text-anchor="end" stroke="#000" stroke-width="0.35" textLength="3.6" lengthAdjust="spacingAndGlyphs">0</text><text x="209.9" y="702.51" font-size="7.2" font-weight="bold" text-anchor="end" stroke="#000" stroke-width="0.35" textLength="3.6" lengthAdjust="spacingAndGlyphs">2</text><text x="209.9" y="678.86" font-size="7.2" font-weight="bold" text-anchor="end" stroke="#000" stroke-width="0.35" textLength="3.6" lengthAdjust="spacingAndGlyphs">4</text><text x="209.9" y="655.21" font-size="7.2" font-weight="bold" text-anchor="end" stroke="#000" stroke-width="0.35" textLength="3.6" lengthAdjust="spacingAndGlyphs">6</text><text x="209.9" y="631.56" font-size="7.2" font-weight="bold" text-anchor="end" stroke="#000" stroke-width="0.35" textLength="3.6" lengthAdjust="spacingAndGlyphs">8</text><text transform="translate(197.06 677.1) rotate(-90)" font-size="8.6" text-anchor="middle" stroke="#000" stroke-width="0.4" textLength="53.6" lengthAdjust="spacingAndGlyphs">Velocity (cm/s)</text><text x="177.2" y="618.2" font-size="13.7" fill="#111">h</text></g><g><rect x="221.98" y="810.9" width="23.05" height="47.1" fill="none" stroke="#000000" stroke-width="1.35"/><rect x="257.68" y="815.5" width="23.15" height="42.5" fill="none" stroke="#bdbdbd" stroke-width="1.35"/><rect x="293.28" y="827.3" width="23.05" height="30.7" fill="none" stroke="#5aa5f5" stroke-width="1.35"/><rect x="328.98" y="825.7" width="22.85" height="32.3" fill="none" stroke="#f2392b" stroke-width="1.35"/><g fill="#000"><circle cx="233.3" cy="769.92" r="1.7"/><circle cx="233.3" cy="779.21" r="1.7"/><circle cx="233.3" cy="785.77" r="1.7"/><circle cx="233.3" cy="795.39" r="1.7"/><circle cx="236.37" cy="801.08" r="1.7"/><circle cx="230.24" cy="804.9" r="1.7"/><circle cx="230.24" cy="812.55" r="1.7"/><circle cx="236.37" cy="812.88" r="1.7"/><circle cx="233.3" cy="821.63" r="1.7"/><circle cx="233.3" cy="832.23" r="1.7"/><circle cx="227.62" cy="841.31" r="1.7"/><circle cx="233.3" cy="843.16" r="1.7"/><circle cx="239.32" cy="841.85" r="1.7"/><rect x="270.22" y="772.4" width="3.13" height="3.13"/><rect x="264.32" y="776.55" width="3.13" height="3.13"/><rect x="267.27" y="785.08" width="3.13" height="3.13"/><rect x="267.27" y="794.92" width="3.13" height="3.13"/><rect x="264.32" y="798.64" width="3.13" height="3.13"/><rect x="270.22" y="803.88" width="3.13" height="3.13"/><rect x="258.52" y="809.57" width="3.13" height="3.13"/><rect x="264.32" y="811.32" width="3.13" height="3.13"/><rect x="270.22" y="810.44" width="3.13" height="3.13"/><rect x="276.02" y="808.8" width="3.13" height="3.13"/><rect x="264.32" y="819.41" width="3.13" height="3.13"/><rect x="273.28" y="819.41" width="3.13" height="3.13"/><rect x="270.22" y="821.59" width="3.13" height="3.13"/><rect x="258.52" y="827.06" width="3.13" height="3.13"/><rect x="264.32" y="825.53" width="3.13" height="3.13"/><rect x="276.02" y="829.25" width="3.13" height="3.13"/><rect x="264.32" y="832.09" width="3.13" height="3.13"/><rect x="270.22" y="832.31" width="3.13" height="3.13"/><rect x="261.26" y="835.81" width="3.13" height="3.13"/><rect x="273.28" y="836.46" width="3.13" height="3.13"/><rect x="267.27" y="840.51" width="3.13" height="3.13"/><path d="M304.76 793.1L306.72 796.56L302.79 796.56Z"/><path d="M304.76 807.64L306.72 811.1L302.79 811.1Z"/><path d="M304.76 814.42L306.72 817.88L302.79 817.88Z"/><path d="M298.96 823.71L300.93 827.17L297 827.17Z"/><path d="M304.76 827.75L306.72 831.22L302.79 831.22Z"/><path d="M310.55 826.99L312.52 830.45L308.59 830.45Z"/><path d="M301.81 837.16L303.77 840.62L299.84 840.62Z"/><path d="M310.55 838.25L312.52 841.71L308.59 841.71Z"/><path d="M307.49 842.29L309.45 845.76L305.53 845.76Z"/><path d="M301.81 844.15L303.77 847.62L299.84 847.62Z"/><path d="M340.51 783.36L342.47 779.9L338.54 779.9Z"/><path d="M340.51 801.73L342.47 798.26L338.54 798.26Z"/><path d="M340.51 807.96L342.47 804.5L338.54 804.5Z"/><path d="M340.51 824.36L342.47 820.89L338.54 820.89Z"/><path d="M340.51 831.46L342.47 828L338.54 828Z"/><path d="M331.54 848.74L333.51 845.27L329.58 845.27Z"/><path d="M337.55 850.59L339.52 847.13L335.59 847.13Z"/><path d="M343.35 849.83L345.31 846.37L341.39 846.37Z"/><path d="M349.03 848.08L351 844.62L347.07 844.62Z"/></g><path d="M233.5 804.1V818M227.9 804.1H239.1M227.9 818H239.1M269.25 810.9V819.7M263.65 810.9H274.85M263.65 819.7H274.85M304.8 821.8V832.2M299.2 821.8H310.4M299.2 832.2H310.4M340.4 817.5V834.1M334.8 817.5H346M334.8 834.1H346" stroke="#000" stroke-width="1.15" fill="none"/><path d="M215.2 762.3V858H358.9M211.6 858H215.2M211.6 826.3H215.2M211.6 794.6H215.2M211.6 762.9H215.2M233.5 858V861.2M269.25 858V861.2M304.8 858V861.2M340.4 858V861.2" stroke="#000" stroke-width="1.4" fill="none"/><text x="211.5" y="860.56" font-size="7.2" font-weight="bold" text-anchor="end" stroke="#000" stroke-width="0.35" textLength="3.6" lengthAdjust="spacingAndGlyphs">0</text><text x="211.5" y="828.86" font-size="7.2" font-weight="bold" text-anchor="end" stroke="#000" stroke-width="0.35" textLength="3.6" lengthAdjust="spacingAndGlyphs">1</text><text x="211.5" y="797.16" font-size="7.2" font-weight="bold" text-anchor="end" stroke="#000" stroke-width="0.35" textLength="3.6" lengthAdjust="spacingAndGlyphs">2</text><text x="211.5" y="765.46" font-size="7.2" font-weight="bold" text-anchor="end" stroke="#000" stroke-width="0.35" textLength="3.6" lengthAdjust="spacingAndGlyphs">3</text><text transform="translate(198.86 809.75) rotate(-90)" font-size="8.6" text-anchor="middle" stroke="#000" stroke-width="0.4" textLength="54.3" lengthAdjust="spacingAndGlyphs">Velocity (cm/s)</text><text x="177.1" y="754.5" font-size="13.7" fill="#111">i</text></g><g><rect x="440.98" y="133.2" width="22.75" height="3.8" fill="none" stroke="#000000" stroke-width="1.35"/><rect x="476.68" y="134.7" width="20.55" height="2.3" fill="none" stroke="#bdbdbd" stroke-width="1.35"/><rect x="510.57" y="117.4" width="22.15" height="19.6" fill="none" stroke="#5aa5f5" stroke-width="1.35"/><rect x="544.97" y="115.6" width="22.75" height="21.4" fill="none" stroke="#f2392b" stroke-width="1.35"/><g fill="#000"><circle cx="452.39" cy="107.91" r="1.7"/><circle cx="452.39" cy="130.24" r="1.7"/><circle cx="442.96" cy="133.91" r="1.7"/><circle cx="446.43" cy="134.71" r="1.7"/><circle cx="449.41" cy="135.2" r="1.7"/><circle cx="452.39" cy="135.7" r="1.7"/><circle cx="455.36" cy="135.2" r="1.7"/><circle cx="458.34" cy="134.71" r="1.7"/><circle cx="461.82" cy="133.91" r="1.7"/><circle cx="452.39" cy="137.19" r="1.7"/><rect x="482.89" y="124.71" width="3.13" height="3.13"/><rect x="488.35" y="126.99" width="3.13" height="3.13"/><rect x="476.63" y="133.64" width="3.13" height="3.13"/><rect x="479.61" y="134.14" width="3.13" height="3.13"/><rect x="482.59" y="134.34" width="3.13" height="3.13"/><rect x="485.57" y="134.34" width="3.13" height="3.13"/><rect x="488.55" y="134.14" width="3.13" height="3.13"/><rect x="491.52" y="133.94" width="3.13" height="3.13"/><rect x="494.5" y="133.64" width="3.13" height="3.13"/><rect x="485.57" y="132.65" width="3.13" height="3.13"/><rect x="485.57" y="135.63" width="3.13" height="3.13"/><path d="M521.68 82.02L523.65 85.49L519.72 85.49Z"/><path d="M521.68 99.49L523.65 102.96L519.72 102.96Z"/><path d="M524.36 103.66L526.33 107.13L522.4 107.13Z"/><path d="M518.91 107.44L520.87 110.9L516.94 110.9Z"/><path d="M515.93 128.98L517.89 132.44L513.96 132.44Z"/><path d="M518.91 126.69L520.87 130.16L516.94 130.16Z"/><path d="M524.36 127.69L526.33 131.15L522.4 131.15Z"/><path d="M527.34 131.46L529.31 134.92L525.38 134.92Z"/><path d="M521.68 133.64L523.65 137.11L519.72 137.11Z"/><path d="M556.43 61.13L558.39 57.67L554.47 57.67Z"/><path d="M559.41 106.4L561.37 102.94L557.44 102.94Z"/><path d="M553.65 109.58L555.61 106.11L551.69 106.11Z"/><path d="M553.65 117.72L555.61 114.25L551.69 114.25Z"/><path d="M559.41 122.98L561.37 119.52L557.44 119.52Z"/><path d="M547.89 133.6L549.86 130.14L545.93 130.14Z"/><path d="M553.45 135.59L555.41 132.12L551.49 132.12Z"/><path d="M559.41 135.19L561.37 131.73L557.44 131.73Z"/><path d="M564.77 133.2L566.73 129.74L562.8 129.74Z"/></g><path d="M452.35 131.2V135.2M446.75 131.2H457.95M446.75 135.2H457.95M486.95 133.5V135.8M481.35 133.5H492.55M481.35 135.8H492.55M521.65 111.4V123.3M516.05 111.4H527.25M516.05 123.3H527.25M556.35 107.4V123.3M550.75 107.4H561.95M550.75 123.3H561.95" stroke="#000" stroke-width="1.15" fill="none"/><path d="M434.8 44.6V137H573.4M431.2 137H434.8M431.2 106.4H434.8M431.2 75.8H434.8M431.2 45.2H434.8M452.35 137V140.2M486.95 137V140.2M521.65 137V140.2M556.35 137V140.2" stroke="#000" stroke-width="1.4" fill="none"/><text x="431.1" y="139.56" font-size="7.2" font-weight="bold" text-anchor="end" stroke="#000" stroke-width="0.35" textLength="4" lengthAdjust="spacingAndGlyphs">0</text><text x="431.1" y="108.96" font-size="7.2" font-weight="bold" text-anchor="end" stroke="#000" stroke-width="0.35" textLength="12" lengthAdjust="spacingAndGlyphs">100</text><text x="431.1" y="78.36" font-size="7.2" font-weight="bold" text-anchor="end" stroke="#000" stroke-width="0.35" textLength="12" lengthAdjust="spacingAndGlyphs">200</text><text x="431.1" y="47.76" font-size="7.2" font-weight="bold" text-anchor="end" stroke="#000" stroke-width="0.35" textLength="12" lengthAdjust="spacingAndGlyphs">300</text><text transform="translate(411.26 90.8) rotate(-90)" font-size="8.6" text-anchor="middle" stroke="#000" stroke-width="0.4" textLength="83.2" lengthAdjust="spacingAndGlyphs">Cumulative duration (s)</text><text x="398.8" y="43.4" font-size="13.7" fill="#111">j</text></g><g><rect x="443.38" y="266.3" width="22.05" height="11" fill="none" stroke="#000000" stroke-width="1.35"/><rect x="477.78" y="265.6" width="22.75" height="11.7" fill="none" stroke="#bdbdbd" stroke-width="1.35"/><rect x="513.47" y="238.6" width="22.05" height="38.7" fill="none" stroke="#5aa5f5" stroke-width="1.35"/><rect x="547.77" y="267.3" width="22.75" height="10" fill="none" stroke="#f2392b" stroke-width="1.35"/><g fill="#000"><circle cx="454.39" cy="246.89" r="1.7"/><circle cx="454.39" cy="256.02" r="1.7"/><circle cx="451.71" cy="263.27" r="1.7"/><circle cx="457.37" cy="261.78" r="1.7"/><circle cx="446.15" cy="269.52" r="1.7"/><circle cx="454.39" cy="270.22" r="1.7"/><circle cx="460.35" cy="269.52" r="1.7"/><circle cx="448.93" cy="274.69" r="1.7"/><circle cx="454.39" cy="276.18" r="1.7"/><circle cx="460.35" cy="276.18" r="1.7"/><rect x="487.87" y="239.17" width="3.13" height="3.13"/><rect x="487.87" y="245.13" width="3.13" height="3.13"/><rect x="487.87" y="261.21" width="3.13" height="3.13"/><rect x="484.89" y="265.18" width="3.13" height="3.13"/><rect x="490.55" y="268.65" width="3.13" height="3.13"/><rect x="479.14" y="272.63" width="3.13" height="3.13"/><rect x="496.21" y="271.34" width="3.13" height="3.13"/><rect x="484.89" y="275.9" width="3.13" height="3.13"/><rect x="490.55" y="275.9" width="3.13" height="3.13"/><path d="M524.35 190.22L526.31 193.68L522.39 193.68Z"/><path d="M521.48 206.24L523.44 209.7L519.51 209.7Z"/><path d="M527.33 209.77L529.3 213.23L525.37 213.23Z"/><path d="M524.35 223.91L526.31 227.37L522.39 227.37Z"/><path d="M524.35 229.99L526.31 233.45L522.39 233.45Z"/><path d="M518.83 235.51L520.79 238.97L516.86 238.97Z"/><path d="M524.35 236.95L526.31 240.41L522.39 240.41Z"/><path d="M530.32 236.06L532.28 239.53L528.35 239.53Z"/><path d="M524.35 245.45L526.31 248.92L522.39 248.92Z"/><path d="M521.48 251.53L523.44 254.99L519.51 254.99Z"/><path d="M527.66 249.32L529.63 252.78L525.7 252.78Z"/><path d="M524.35 260.59L526.31 264.05L522.39 264.05Z"/><path d="M521.48 273.62L523.44 277.09L519.51 277.09Z"/><path d="M527.66 272.3L529.63 275.76L525.7 275.76Z"/><path d="M559.37 232.04L561.33 228.57L557.41 228.57Z"/><path d="M559.37 240.21L561.33 236.75L557.41 236.75Z"/><path d="M559.37 262.97L561.33 259.51L557.41 259.51Z"/><path d="M550.53 267.06L552.5 263.59L548.57 263.59Z"/><path d="M556.06 268.93L558.02 265.47L554.09 265.47Z"/><path d="M567.65 267.06L569.62 263.59L565.69 263.59Z"/><path d="M550.53 272.58L552.5 269.12L548.57 269.12Z"/><path d="M556.06 274.24L558.02 270.77L554.09 270.77Z"/><path d="M562.13 272.25L564.09 268.78L560.17 268.78Z"/><path d="M567.65 274.79L569.62 271.33L565.69 271.33Z"/><path d="M553.29 275.89L555.26 272.43L551.33 272.43Z"/><path d="M559.37 277L561.33 273.54L557.41 273.54Z"/><path d="M564.34 276.22L566.3 272.76L562.38 272.76Z"/><path d="M556.61 278.1L558.57 274.64L554.64 274.64Z"/><path d="M562.13 278.1L564.09 274.64L560.17 274.64Z"/></g><path d="M454.4 263.6V269M448.8 263.6H460M448.8 269H460M489.15 261.3V269.7M483.55 261.3H494.75M483.55 269.7H494.75M524.5 232.3V245.2M518.9 232.3H530.1M518.9 245.2H530.1M559.15 263.5V270.6M553.55 263.5H564.75M553.55 270.6H564.75" stroke="#000" stroke-width="1.15" fill="none"/><path d="M437.6 183.2V277.3H578M434 277.3H437.6M434 258.6H437.6M434 239.9H437.6M434 221.2H437.6M434 202.5H437.6M434 183.8H437.6M454.4 277.3V280.5M489.15 277.3V280.5M524.5 277.3V280.5M559.15 277.3V280.5" stroke="#000" stroke-width="1.4" fill="none"/><text x="433.9" y="279.86" font-size="7.2" font-weight="bold" text-anchor="end" stroke="#000" stroke-width="0.35" textLength="3.8" lengthAdjust="spacingAndGlyphs">0</text><text x="433.9" y="261.16" font-size="7.2" font-weight="bold" text-anchor="end" stroke="#000" stroke-width="0.35" textLength="7.6" lengthAdjust="spacingAndGlyphs">50</text><text x="433.9" y="242.46" font-size="7.2" font-weight="bold" text-anchor="end" stroke="#000" stroke-width="0.35" textLength="11.4" lengthAdjust="spacingAndGlyphs">100</text><text x="433.9" y="223.76" font-size="7.2" font-weight="bold" text-anchor="end" stroke="#000" stroke-width="0.35" textLength="11.4" lengthAdjust="spacingAndGlyphs">150</text><text x="433.9" y="205.06" font-size="7.2" font-weight="bold" text-anchor="end" stroke="#000" stroke-width="0.35" textLength="11.4" lengthAdjust="spacingAndGlyphs">200</text><text x="433.9" y="186.36" font-size="7.2" font-weight="bold" text-anchor="end" stroke="#000" stroke-width="0.35" textLength="11.4" lengthAdjust="spacingAndGlyphs">250</text><text transform="translate(413.56 231.75) rotate(-90)" font-size="8.6" text-anchor="middle" stroke="#000" stroke-width="0.4" textLength="81.7" lengthAdjust="spacingAndGlyphs">Cumulative duration (s)</text><text x="398.8" y="179.4" font-size="13.7" fill="#111">k</text></g><g><rect x="445.98" y="401.6" width="22.15" height="22.4" fill="none" stroke="#000000" stroke-width="1.35"/><rect x="480.38" y="407.2" width="21.85" height="16.8" fill="none" stroke="#bdbdbd" stroke-width="1.35"/><rect x="514.57" y="366.5" width="22.05" height="57.5" fill="none" stroke="#5aa5f5" stroke-width="1.35"/><rect x="548.88" y="375.4" width="22.15" height="48.6" fill="none" stroke="#f2392b" stroke-width="1.35"/><g fill="#000"><circle cx="456.89" cy="377.45" r="1.7"/><circle cx="456.89" cy="385.88" r="1.7"/><circle cx="454.11" cy="393.03" r="1.7"/><circle cx="459.67" cy="397" r="1.7"/><circle cx="465.33" cy="399.58" r="1.7"/><circle cx="448.75" cy="401.27" r="1.7"/><circle cx="454.41" cy="404.94" r="1.7"/><circle cx="459.67" cy="404.55" r="1.7"/><circle cx="451.43" cy="409.51" r="1.7"/><circle cx="462.35" cy="408.22" r="1.7"/><circle cx="456.89" cy="412.19" r="1.7"/><circle cx="459.67" cy="413.18" r="1.7"/><circle cx="454.11" cy="417.65" r="1.7"/><rect x="484.31" y="386.3" width="3.13" height="3.13"/><rect x="495.23" y="387.79" width="3.13" height="3.13"/><rect x="489.77" y="391.76" width="3.13" height="3.13"/><rect x="489.77" y="399.71" width="3.13" height="3.13"/><rect x="481.14" y="401.99" width="3.13" height="3.13"/><rect x="492.55" y="402.68" width="3.13" height="3.13"/><rect x="497.81" y="401.69" width="3.13" height="3.13"/><rect x="486.89" y="404.97" width="3.13" height="3.13"/><rect x="480.94" y="406.36" width="3.13" height="3.13"/><rect x="498.81" y="406.16" width="3.13" height="3.13"/><rect x="494.04" y="409.14" width="3.13" height="3.13"/><rect x="485.31" y="410.92" width="3.13" height="3.13"/><rect x="489.77" y="411.12" width="3.13" height="3.13"/><rect x="480.64" y="413.9" width="3.13" height="3.13"/><rect x="498.81" y="415.59" width="3.13" height="3.13"/><rect x="485.31" y="416.58" width="3.13" height="3.13"/><rect x="489.77" y="417.08" width="3.13" height="3.13"/><rect x="494.04" y="416.88" width="3.13" height="3.13"/><path d="M525.39 346.64L527.36 350.11L523.43 350.11Z"/><path d="M522.66 350.19L524.62 353.65L520.69 353.65Z"/><path d="M528.23 354.24L530.19 357.7L526.26 357.7Z"/><path d="M519.92 364.57L521.89 368.03L517.96 368.03Z"/><path d="M525.39 367.4L527.36 370.87L523.43 370.87Z"/><path d="M531.06 366.39L533.03 369.85L529.1 369.85Z"/><path d="M522.66 376.52L524.62 379.98L520.69 379.98Z"/><path d="M528.23 376.31L530.19 379.78L526.26 379.78Z"/><path d="M525.39 383.1L527.36 386.56L523.43 386.56Z"/><path d="M559.62 361.41L561.58 357.94L557.66 357.94Z"/><path d="M550.71 371.84L552.67 368.37L548.75 368.37Z"/><path d="M555.06 373.56L557.03 370.1L553.1 370.1Z"/><path d="M559.62 375.89L561.58 372.42L557.66 372.42Z"/><path d="M564.18 374.17L566.14 370.7L562.21 370.7Z"/><path d="M568.53 372.55L570.5 369.08L566.57 369.08Z"/><path d="M556.78 382.98L558.75 379.51L554.82 379.51Z"/><path d="M562.46 387.33L564.42 383.87L560.49 383.87Z"/><path d="M559.62 394.12L561.58 390.65L557.66 390.65Z"/><path d="M559.62 374.17L561.58 370.7L557.66 370.7Z"/></g><path d="M457.05 398.6V405M451.45 398.6H462.65M451.45 405H462.65M491.3 405V409.4M485.7 405H496.9M485.7 409.4H496.9M525.6 362.1V370.9M520 362.1H531.2M520 370.9H531.2M559.95 372.2V378.5M554.35 372.2H565.55M554.35 378.5H565.55" stroke="#000" stroke-width="1.15" fill="none"/><path d="M438.8 332.5V424H576.7M435.2 424H438.8M435.2 401.27H438.8M435.2 378.55H438.8M435.2 355.83H438.8M435.2 333.1H438.8M457.05 424V427.2M491.3 424V427.2M525.6 424V427.2M559.95 424V427.2" stroke="#000" stroke-width="1.4" fill="none"/><text x="435.1" y="426.56" font-size="7.2" font-weight="bold" text-anchor="end" stroke="#000" stroke-width="0.35" textLength="3.6" lengthAdjust="spacingAndGlyphs">0</text><text x="435.1" y="403.83" font-size="7.2" font-weight="bold" text-anchor="end" stroke="#000" stroke-width="0.35" textLength="14.4" lengthAdjust="spacingAndGlyphs">1000</text><text x="435.1" y="381.11" font-size="7.2" font-weight="bold" text-anchor="end" stroke="#000" stroke-width="0.35" textLength="14.4" lengthAdjust="spacingAndGlyphs">2000</text><text x="435.1" y="358.38" font-size="7.2" font-weight="bold" text-anchor="end" stroke="#000" stroke-width="0.35" textLength="14.4" lengthAdjust="spacingAndGlyphs">3000</text><text x="435.1" y="335.66" font-size="7.2" font-weight="bold" text-anchor="end" stroke="#000" stroke-width="0.35" textLength="14.4" lengthAdjust="spacingAndGlyphs">4000</text><text transform="translate(412.76 378.85) rotate(-90)" font-size="8.6" text-anchor="middle" stroke="#000" stroke-width="0.4" textLength="67.1" lengthAdjust="spacingAndGlyphs">Total distance (cm)</text><text x="398.8" y="335.4" font-size="13.7" fill="#111">l</text></g><g><rect x="445.98" y="551.3" width="22.15" height="14.9" fill="none" stroke="#000000" stroke-width="1.35"/><rect x="480.38" y="547.6" width="21.85" height="18.6" fill="none" stroke="#bdbdbd" stroke-width="1.35"/><rect x="514.57" y="531.4" width="22.05" height="34.8" fill="none" stroke="#5aa5f5" stroke-width="1.35"/><rect x="548.88" y="551.2" width="22.15" height="15" fill="none" stroke="#f2392b" stroke-width="1.35"/><g fill="#000"><circle cx="459.67" cy="535.42" r="1.7"/><circle cx="454.11" cy="537.91" r="1.7"/><circle cx="454.11" cy="545.35" r="1.7"/><circle cx="459.67" cy="547.63" r="1.7"/><circle cx="448.15" cy="557.96" r="1.7"/><circle cx="452.42" cy="559.55" r="1.7"/><circle cx="456.89" cy="560.24" r="1.7"/><circle cx="461.36" cy="559.74" r="1.7"/><circle cx="465.82" cy="558.75" r="1.7"/><rect x="489.57" y="530.58" width="3.13" height="3.13"/><rect x="492.55" y="531.58" width="3.13" height="3.13"/><rect x="486.89" y="537.14" width="3.13" height="3.13"/><rect x="481.14" y="541.11" width="3.13" height="3.13"/><rect x="497.81" y="543.09" width="3.13" height="3.13"/><rect x="486.89" y="544.78" width="3.13" height="3.13"/><rect x="492.55" y="545.77" width="3.13" height="3.13"/><rect x="481.14" y="557.19" width="3.13" height="3.13"/><rect x="497.81" y="555.2" width="3.13" height="3.13"/><rect x="486.89" y="560.36" width="3.13" height="3.13"/><rect x="492.25" y="559.97" width="3.13" height="3.13"/><path d="M525.57 487.46L527.53 490.92L523.6 490.92Z"/><path d="M520.04 518.8L522 522.26L518.07 522.26Z"/><path d="M528.43 518.18L530.4 521.65L526.47 521.65Z"/><path d="M522.8 522.89L524.77 526.36L520.84 526.36Z"/><path d="M528.43 526.17L530.4 529.64L526.47 529.64Z"/><path d="M516.35 531.09L518.31 534.55L514.39 534.55Z"/><path d="M521.06 533.55L523.02 537.01L519.1 537.01Z"/><path d="M534.58 531.5L536.54 534.96L532.62 534.96Z"/><path d="M525.57 535.59L527.53 539.06L523.6 539.06Z"/><path d="M529.97 535.59L531.93 539.06L528.01 539.06Z"/><path d="M522.8 539.49L524.77 542.95L520.84 542.95Z"/><path d="M531 542.35L532.96 545.82L529.03 545.82Z"/><path d="M522.8 548.5L524.77 551.96L520.84 551.96Z"/><path d="M528.43 547.47L530.4 550.94L526.47 550.94Z"/><path d="M556.91 539.11L558.87 535.65L554.94 535.65Z"/><path d="M562.44 542.59L564.4 539.13L560.47 539.13Z"/><path d="M568.17 545.67L570.14 542.2L566.21 542.2Z"/><path d="M548.71 547L550.68 543.54L546.75 543.54Z"/><path d="M556.91 549.05L558.87 545.58L554.94 545.58Z"/><path d="M562.44 548.33L564.4 544.87L560.47 544.87Z"/><path d="M551.48 552.43L553.44 548.96L549.52 548.96Z"/><path d="M559.67 553.66L561.64 550.19L557.71 550.19Z"/><path d="M568.17 554.47L570.14 551.01L566.21 551.01Z"/><path d="M556.91 555.5L558.87 552.04L554.94 552.04Z"/><path d="M562.44 555.5L564.4 552.04L560.47 552.04Z"/><path d="M550.45 558.57L552.42 555.11L548.49 555.11Z"/><path d="M554.24 560L556.21 556.54L552.28 556.54Z"/><path d="M561.72 560.62L563.68 557.16L559.76 557.16Z"/><path d="M565.82 558.57L567.78 555.11L563.85 555.11Z"/><path d="M569.4 557.96L571.37 554.49L567.44 554.49Z"/><path d="M557.93 563.69L559.89 560.23L555.97 560.23Z"/></g><path d="M457.05 548.3V554.5M451.45 548.3H462.65M451.45 554.5H462.65M491.3 544.4V551M485.7 544.4H496.9M485.7 551H496.9M525.6 527.3V535.3M520 527.3H531.2M520 535.3H531.2M559.95 549.6V553.2M554.35 549.6H565.55M554.35 553.2H565.55" stroke="#000" stroke-width="1.15" fill="none"/><path d="M439.5 474.3V566.2H577M435.9 566.2H439.5M435.9 550.98H439.5M435.9 535.77H439.5M435.9 520.55H439.5M435.9 505.33H439.5M435.9 490.12H439.5M435.9 474.9H439.5M457.05 566.2V569.4M491.3 566.2V569.4M525.6 566.2V569.4M559.95 566.2V569.4" stroke="#000" stroke-width="1.4" fill="none"/><text x="435.8" y="568.76" font-size="7.2" font-weight="bold" text-anchor="end" stroke="#000" stroke-width="0.35" textLength="3.68" lengthAdjust="spacingAndGlyphs">0</text><text x="435.8" y="553.54" font-size="7.2" font-weight="bold" text-anchor="end" stroke="#000" stroke-width="0.35" textLength="14.72" lengthAdjust="spacingAndGlyphs">1000</text><text x="435.8" y="538.32" font-size="7.2" font-weight="bold" text-anchor="end" stroke="#000" stroke-width="0.35" textLength="14.72" lengthAdjust="spacingAndGlyphs">2000</text><text x="435.8" y="523.11" font-size="7.2" font-weight="bold" text-anchor="end" stroke="#000" stroke-width="0.35" textLength="14.72" lengthAdjust="spacingAndGlyphs">3000</text><text x="435.8" y="507.89" font-size="7.2" font-weight="bold" text-anchor="end" stroke="#000" stroke-width="0.35" textLength="14.72" lengthAdjust="spacingAndGlyphs">4000</text><text x="435.8" y="492.67" font-size="7.2" font-weight="bold" text-anchor="end" stroke="#000" stroke-width="0.35" textLength="14.72" lengthAdjust="spacingAndGlyphs">5000</text><text x="435.8" y="477.46" font-size="7.2" font-weight="bold" text-anchor="end" stroke="#000" stroke-width="0.35" textLength="14.72" lengthAdjust="spacingAndGlyphs">6000</text><text transform="translate(412.76 520.5) rotate(-90)" font-size="8.6" text-anchor="middle" stroke="#000" stroke-width="0.4" textLength="67.2" lengthAdjust="spacingAndGlyphs">Total distance (cm)</text><text x="398.8" y="472.2" font-size="13.7" fill="#111">m</text></g><g><rect x="436.98" y="690.6" width="22.85" height="29.2" fill="none" stroke="#000000" stroke-width="1.35"/><rect x="472.07" y="697.2" width="22.85" height="22.6" fill="none" stroke="#bdbdbd" stroke-width="1.35"/><rect x="507.57" y="691.6" width="23.15" height="28.2" fill="none" stroke="#5aa5f5" stroke-width="1.35"/><rect x="542.88" y="694.3" width="22.85" height="25.5" fill="none" stroke="#f2392b" stroke-width="1.35"/><g fill="#000"><circle cx="448.39" cy="666.75" r="1.7"/><circle cx="442.44" cy="677.67" r="1.7"/><circle cx="451.07" cy="676.68" r="1.7"/><circle cx="445.42" cy="681.05" r="1.7"/><circle cx="451.07" cy="684.62" r="1.7"/><circle cx="442.44" cy="689.28" r="1.7"/><circle cx="453.85" cy="691.96" r="1.7"/><circle cx="448.39" cy="694.25" r="1.7"/><circle cx="442.44" cy="698.22" r="1.7"/><circle cx="453.85" cy="698.22" r="1.7"/><circle cx="448.39" cy="702.49" r="1.7"/><circle cx="451.07" cy="707.85" r="1.7"/><circle cx="445.42" cy="713.11" r="1.7"/><rect x="481.87" y="676.8" width="3.13" height="3.13"/><rect x="484.55" y="679.08" width="3.13" height="3.13"/><rect x="476.31" y="683.25" width="3.13" height="3.13"/><rect x="479.09" y="688.22" width="3.13" height="3.13"/><rect x="484.55" y="690.2" width="3.13" height="3.13"/><rect x="472.64" y="692.68" width="3.13" height="3.13"/><rect x="477.31" y="695.66" width="3.13" height="3.13"/><rect x="481.87" y="696.65" width="3.13" height="3.13"/><rect x="486.54" y="695.66" width="3.13" height="3.13"/><rect x="491.01" y="695.36" width="3.13" height="3.13"/><rect x="473.14" y="700.63" width="3.13" height="3.13"/><rect x="479.09" y="701.62" width="3.13" height="3.13"/><rect x="484.55" y="700.13" width="3.13" height="3.13"/><rect x="487.53" y="703.6" width="3.13" height="3.13"/><rect x="490.81" y="705.29" width="3.13" height="3.13"/><rect x="473.14" y="707.08" width="3.13" height="3.13"/><rect x="479.09" y="710.85" width="3.13" height="3.13"/><rect x="484.55" y="709.26" width="3.13" height="3.13"/><path d="M519.07 665.18L521.04 668.65L517.11 668.65Z"/><path d="M516.1 679.38L518.06 682.84L514.13 682.84Z"/><path d="M522.05 679.08L524.02 682.54L520.09 682.54Z"/><path d="M519.07 686.33L521.04 689.79L517.11 689.79Z"/><path d="M519.07 692.28L521.04 695.75L517.11 695.75Z"/><path d="M513.42 701.22L515.38 704.68L511.45 704.68Z"/><path d="M519.07 698.94L521.04 702.4L517.11 702.4Z"/><path d="M524.63 701.72L526.6 705.18L522.67 705.18Z"/><path d="M519.07 705.49L521.04 708.95L517.11 708.95Z"/><path d="M554.41 670.1L556.38 666.64L552.45 666.64Z"/><path d="M551.44 682.61L553.4 679.15L549.47 679.15Z"/><path d="M557.39 687.58L559.36 684.11L555.43 684.11Z"/><path d="M554.41 694.72L556.38 691.26L552.45 691.26Z"/><path d="M548.66 698.2L550.62 694.73L546.69 694.73Z"/><path d="M560.07 698.2L562.04 694.73L558.11 694.73Z"/><path d="M554.41 702.17L556.38 698.7L552.45 698.7Z"/><path d="M551.44 715.77L553.4 712.3L549.47 712.3Z"/><path d="M557.39 715.37L559.36 711.91L555.43 711.91Z"/></g><path d="M448.4 687.3V694.3M442.8 687.3H454M442.8 694.3H454M483.5 695.3V699.1M477.9 695.3H489.1M477.9 699.1H489.1M519.15 687V696M513.55 687H524.75M513.55 696H524.75M554.3 689.6V699.5M548.7 689.6H559.9M548.7 699.5H559.9" stroke="#000" stroke-width="1.15" fill="none"/><path d="M430.9 625.5V719.8H572.1M427.3 719.8H430.9M427.3 688.57H430.9M427.3 657.33H430.9M427.3 626.1H430.9M448.4 719.8V723M483.5 719.8V723M519.15 719.8V723M554.3 719.8V723" stroke="#000" stroke-width="1.4" fill="none"/><text x="427.2" y="722.36" font-size="7.2" font-weight="bold" text-anchor="end" stroke="#000" stroke-width="0.35" textLength="3.7" lengthAdjust="spacingAndGlyphs">0</text><text x="427.2" y="691.12" font-size="7.2" font-weight="bold" text-anchor="end" stroke="#000" stroke-width="0.35" textLength="3.7" lengthAdjust="spacingAndGlyphs">2</text><text x="427.2" y="659.89" font-size="7.2" font-weight="bold" text-anchor="end" stroke="#000" stroke-width="0.35" textLength="3.7" lengthAdjust="spacingAndGlyphs">4</text><text x="427.2" y="628.66" font-size="7.2" font-weight="bold" text-anchor="end" stroke="#000" stroke-width="0.35" textLength="3.7" lengthAdjust="spacingAndGlyphs">6</text><text transform="translate(414.16 673.45) rotate(-90)" font-size="8.6" text-anchor="middle" stroke="#000" stroke-width="0.4" textLength="52.5" lengthAdjust="spacingAndGlyphs">Velocity (cm/s)</text><text x="398.8" y="618.2" font-size="13.7" fill="#111">n</text></g><g><rect x="439.98" y="826.6" width="23.25" height="30.7" fill="none" stroke="#000000" stroke-width="1.35"/><rect x="475.88" y="822.6" width="23.15" height="34.7" fill="none" stroke="#bdbdbd" stroke-width="1.35"/><rect x="511.68" y="832.7" width="23.05" height="24.6" fill="none" stroke="#5aa5f5" stroke-width="1.35"/><rect x="547.17" y="834.9" width="23.15" height="22.4" fill="none" stroke="#f2392b" stroke-width="1.35"/><g fill="#000"><circle cx="448.71" cy="810.88" r="1.7"/><circle cx="454.66" cy="814.36" r="1.7"/><circle cx="460.32" cy="817.34" r="1.7"/><circle cx="442.95" cy="820.61" r="1.7"/><circle cx="448.71" cy="821.6" r="1.7"/><circle cx="454.66" cy="821.01" r="1.7"/><circle cx="448.71" cy="830.24" r="1.7"/><circle cx="454.66" cy="832.92" r="1.7"/><circle cx="448.71" cy="849.1" r="1.7"/><circle cx="454.66" cy="847.41" r="1.7"/><rect x="485.76" y="793.44" width="3.13" height="3.13"/><rect x="485.76" y="799.59" width="3.13" height="3.13"/><rect x="482.88" y="810.51" width="3.13" height="3.13"/><rect x="488.54" y="811.3" width="3.13" height="3.13"/><rect x="485.76" y="825" width="3.13" height="3.13"/><rect x="482.88" y="829.97" width="3.13" height="3.13"/><rect x="488.54" y="830.96" width="3.13" height="3.13"/><rect x="482.88" y="846.05" width="3.13" height="3.13"/><rect x="488.54" y="843.27" width="3.13" height="3.13"/><path d="M517.42 815.37L519.38 818.84L515.45 818.84Z"/><path d="M523.07 816.66L525.04 820.13L521.11 820.13Z"/><path d="M529.03 815.67L530.99 819.13L527.07 819.13Z"/><path d="M523.07 823.02L525.04 826.48L521.11 826.48Z"/><path d="M517.42 826.29L519.38 829.75L515.45 829.75Z"/><path d="M529.03 829.27L530.99 832.73L527.07 832.73Z"/><path d="M523.07 831.26L525.04 834.72L521.11 834.72Z"/><path d="M514.44 834.73L516.4 838.19L512.47 838.19Z"/><path d="M531.61 834.73L533.58 838.19L529.65 838.19Z"/><path d="M520.39 837.51L522.36 840.97L518.43 840.97Z"/><path d="M526.05 838.9L528.02 842.36L524.09 842.36Z"/><path d="M517.42 843.66L519.38 847.13L515.45 847.13Z"/><path d="M523.07 847.14L525.04 850.6L521.11 850.6Z"/><path d="M529.03 845.65L530.99 849.11L527.07 849.11Z"/><path d="M558.81 801.73L560.78 798.27L556.85 798.27Z"/><path d="M561.79 821.28L563.75 817.82L559.83 817.82Z"/><path d="M553.15 825.75L555.12 822.29L551.19 822.29Z"/><path d="M556.13 829.72L558.09 826.26L554.17 826.26Z"/><path d="M553.15 833.2L555.12 829.73L551.19 829.73Z"/><path d="M561.79 831.91L563.75 828.44L559.83 828.44Z"/><path d="M564.57 834.19L566.53 830.73L562.61 830.73Z"/><path d="M558.81 837.47L560.78 834L556.85 834Z"/><path d="M548.69 841.14L550.65 837.68L546.72 837.68Z"/><path d="M552.86 842.83L554.82 839.36L550.89 839.36Z"/><path d="M568.74 842.83L570.7 839.36L566.78 839.36Z"/><path d="M556.83 846.1L558.79 842.64L554.86 842.64Z"/><path d="M561.39 847.79L563.36 844.33L559.43 844.33Z"/><path d="M564.57 846.1L566.53 842.64L562.61 842.64Z"/><path d="M556.13 853.05L558.09 849.59L554.17 849.59Z"/></g><path d="M451.6 822.3V830.3M446 822.3H457.2M446 830.3H457.2M487.45 816.4V828.8M481.85 816.4H493.05M481.85 828.8H493.05M523.2 830V835.7M517.6 830H528.8M517.6 835.7H528.8M558.75 832V838.2M553.15 832H564.35M553.15 838.2H564.35" stroke="#000" stroke-width="1.15" fill="none"/><path d="M433.6 761.9V857.3H576.2M430 857.3H433.6M430 833.6H433.6M430 809.9H433.6M430 786.2H433.6M430 762.5H433.6M451.6 857.3V860.5M487.45 857.3V860.5M523.2 857.3V860.5M558.75 857.3V860.5" stroke="#000" stroke-width="1.4" fill="none"/><text x="429.9" y="859.86" font-size="7.2" font-weight="bold" text-anchor="end" stroke="#000" stroke-width="0.35" textLength="3.7" lengthAdjust="spacingAndGlyphs">0</text><text x="429.9" y="836.16" font-size="7.2" font-weight="bold" text-anchor="end" stroke="#000" stroke-width="0.35" textLength="3.7" lengthAdjust="spacingAndGlyphs">2</text><text x="429.9" y="812.46" font-size="7.2" font-weight="bold" text-anchor="end" stroke="#000" stroke-width="0.35" textLength="3.7" lengthAdjust="spacingAndGlyphs">4</text><text x="429.9" y="788.76" font-size="7.2" font-weight="bold" text-anchor="end" stroke="#000" stroke-width="0.35" textLength="3.7" lengthAdjust="spacingAndGlyphs">6</text><text x="429.9" y="765.06" font-size="7.2" font-weight="bold" text-anchor="end" stroke="#000" stroke-width="0.35" textLength="3.7" lengthAdjust="spacingAndGlyphs">8</text><text transform="translate(417.06 809.5) rotate(-90)" font-size="8.6" text-anchor="middle" stroke="#000" stroke-width="0.4" textLength="53.4" lengthAdjust="spacingAndGlyphs">Velocity (cm/s)</text><text x="398.6" y="754.7" font-size="13.7" fill="#111">o</text></g><text x="76.8" y="11.8" font-size="14.6" font-weight="bold" stroke="#000" stroke-width="0.3" textLength="23.5" lengthAdjust="spacingAndGlyphs" fill="#000">P60</text><text x="258.6" y="11.8" font-size="14.6" font-weight="bold" stroke="#000" stroke-width="0.3" textLength="36.7" lengthAdjust="spacingAndGlyphs" fill="#000">Acute</text><text x="460.9" y="11.8" font-size="14.6" font-weight="bold" stroke="#000" stroke-width="0.3" textLength="49.1" lengthAdjust="spacingAndGlyphs" fill="#000">Chronic</text><path d="M45.4 18.6H119.6M185.8 18.6H362.8M399.3 18.6H576.5M28 29.7V272M28 327V569.4M28 625.3V866.8M170 33.5V144.2M171.7 171V281.3M171.6 328.8V437.7M172.9 464V573.7M173 612.5V722.7M173 748.2V857.9" stroke="#1c1c1c" stroke-width="1.9" fill="none"/><text transform="translate(11.8 202.8) rotate(-90)" font-size="15" font-weight="bold" stroke="#000" stroke-width="0.3" textLength="118.8" lengthAdjust="spacingAndGlyphs">Time in open arms</text><text transform="translate(11.8 499.1) rotate(-90)" font-size="15" font-weight="bold" stroke="#000" stroke-width="0.3" textLength="112" lengthAdjust="spacingAndGlyphs">Distance traveled</text><text transform="translate(11.8 760.3) rotate(-90)" font-size="15" font-weight="bold" stroke="#000" stroke-width="0.3" textLength="51.5" lengthAdjust="spacingAndGlyphs">Velocity</text><text transform="translate(159.8 118.3) rotate(-90)" font-size="15" font-weight="bold" stroke="#000" stroke-width="0.3" textLength="64.6" lengthAdjust="spacingAndGlyphs">Cuprizone</text><text transform="translate(158.9 274.8) rotate(-90)" font-size="15" font-weight="bold" stroke="#000" stroke-width="0.3" textLength="96.1" lengthAdjust="spacingAndGlyphs">5 wks recovery</text><text transform="translate(160.2 411.6) rotate(-90)" font-size="15" font-weight="bold" stroke="#000" stroke-width="0.3" textLength="65.2" lengthAdjust="spacingAndGlyphs">Cuprizone</text><text transform="translate(160.5 567.3) rotate(-90)" font-size="15" font-weight="bold" stroke="#000" stroke-width="0.3" textLength="94.7" lengthAdjust="spacingAndGlyphs">5 wks recovery</text><text transform="translate(161.3 690.7) rotate(-90)" font-size="15" font-weight="bold" stroke="#000" stroke-width="0.3" textLength="65" lengthAdjust="spacingAndGlyphs">Cuprizone</text><text transform="translate(160.9 846.3) rotate(-90)" font-size="15" font-weight="bold" stroke="#000" stroke-width="0.3" textLength="95.3" lengthAdjust="spacingAndGlyphs">5 wks recovery</text><path d="M231.35 99H266.45M248.5 99V40H318.5V52M301.35 52H336.3M452.35 99H487M469.5 99V40H538.5V52M521.65 52H555.5M454.4 232H489.15M471.5 232V178H520.7V185M525.7 185V178H559.3V226M236.9 360H271.15M253.5 360V329H322.3V337M305.3 337H339.7M457.05 365.5H491.3M473.6 365.5V334.5H542V342.3M525.6 342.3H558.7M457.05 522.5H491.3M473.6 522.5V469.5H522.3V475.5M527 475.5V469.5H559.5V516.5" stroke="#262626" stroke-width="1.15" fill="none"/><text x="281.2" y="37.3" font-size="9.6" font-weight="bold" text-anchor="middle" fill="#1a1a1a">*</text><text x="501" y="37.3" font-size="9.6" font-weight="bold" text-anchor="middle" fill="#1a1a1a">*</text><text x="498" y="176.3" font-size="9.6" font-weight="bold" text-anchor="middle" fill="#1a1a1a">***</text><text x="542" y="176.3" font-size="9.6" font-weight="bold" text-anchor="middle" fill="#1a1a1a">**</text><text x="286.5" y="327.3" font-size="9.6" font-weight="bold" text-anchor="middle" fill="#1a1a1a">**</text><text x="506" y="332.4" font-size="9.6" font-weight="bold" text-anchor="middle" fill="#1a1a1a">****</text><text x="499.7" y="466.9" font-size="9.6" font-weight="bold" text-anchor="middle" fill="#1a1a1a">**</text><text x="543" y="466.9" font-size="9.6" font-weight="bold" text-anchor="middle" fill="#1a1a1a">****</text><path d="M578 36.1H590.8" stroke="#000" stroke-width="1.6"/><g fill="#000"><circle cx="584.4" cy="36.1" r="2.3"/></g><text x="599.3" y="39.8" font-size="10.35" fill="#1e1e1e" stroke="#1e1e1e" stroke-width="0.2">Norm miR-145a<tspan font-size="7.6" dx="0.8" dy="-4.2">+/+</tspan></text><path d="M578 52.1H590.8" stroke="#bdbdbd" stroke-width="1.6"/><g fill="#000"><rect x="582.28" y="49.98" width="4.23" height="4.23"/></g><text x="599.3" y="55.8" font-size="10.35" fill="#1e1e1e" stroke="#1e1e1e" stroke-width="0.2">Norm miR-145a<tspan font-size="7.6" dx="0.8" dy="-4.2">-/-</tspan></text><path d="M578 68.4H590.8" stroke="#5aa5f5" stroke-width="1.6"/><g fill="#000"><path d="M584.4 65.74L587.06 70.43L581.74 70.43Z"/></g><text x="599.3" y="72.1" font-size="10.35" fill="#1e1e1e" stroke="#1e1e1e" stroke-width="0.2">Cup miR-145a<tspan font-size="7.6" dx="0.8" dy="-4.2">+/+</tspan></text><path d="M578 83.9H590.8" stroke="#f2392b" stroke-width="1.6"/><g fill="#000"><path d="M584.4 86.56L587.06 81.87L581.74 81.87Z"/></g><text x="599.3" y="87.6" font-size="10.35" fill="#1e1e1e" stroke="#1e1e1e" stroke-width="0.2">Cup miR-145a<tspan font-size="7.6" dx="0.8" dy="-4.2">-/-</tspan></text><text x="77.8" y="186.2" font-size="3" text-anchor="middle" fill="#c4c4c4">+/+</text><text x="108.4" y="186.2" font-size="3" text-anchor="middle" fill="#c4c4c4">-/-</text><text x="88.5" y="498.2" font-size="3" text-anchor="middle" fill="#c4c4c4">+/+</text><text x="120" y="498.2" font-size="3" text-anchor="middle" fill="#c4c4c4">-/-</text><text x="83" y="791.6" font-size="3" text-anchor="middle" fill="#c4c4c4">+/+</text><text x="114.6" y="791.6" font-size="3" text-anchor="middle" fill="#c4c4c4">-/-</text><text x="237.8" y="573.4" font-size="3" text-anchor="middle" fill="#c4c4c4">+/+</text><text x="273.5" y="573.4" font-size="3" text-anchor="middle" fill="#c4c4c4">-/-</text><text x="309.2" y="573.4" font-size="3" text-anchor="middle" fill="#c4c4c4">+/+</text><text x="344.8" y="573.4" font-size="3" text-anchor="middle" fill="#c4c4c4">-/-</text></svg>
</body></html>
